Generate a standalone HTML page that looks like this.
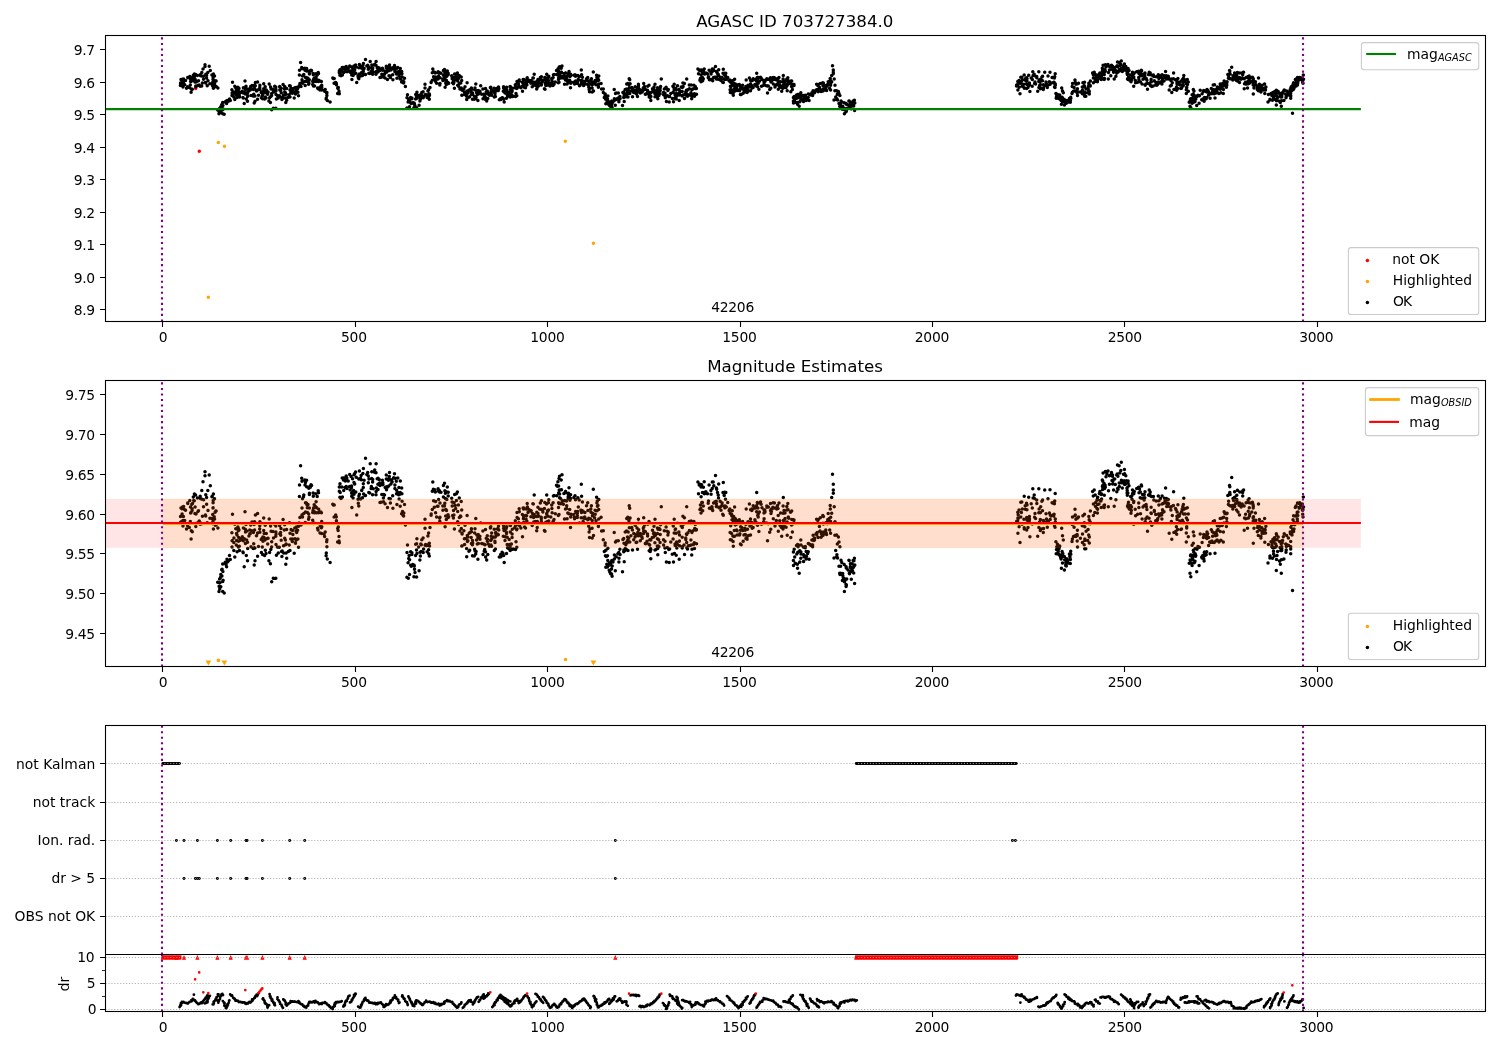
<!DOCTYPE html>
<html><head><meta charset="utf-8"><title>AGASC ID 703727384.0</title>
<style>html,body{margin:0;padding:0;background:#fff}svg{display:block;will-change:transform}</style></head>
<body>
<svg width="1500" height="1050" viewBox="0 0 1500 1050" font-family="DejaVu Sans, Liberation Sans, sans-serif" fill="#000">
<rect width="1500" height="1050" fill="#fff"/>
<g id="p1">
<clipPath id="c1"><rect x="105.5" y="35.5" width="1380.0" height="286.0"/></clipPath>
<g clip-path="url(#c1)">
<path d="M199.3 151.3h0M195.7 88.4h0" stroke="#f00" stroke-width="3.5" stroke-linecap="round" fill="none"/>
<path d="M180.4 85.6h0M180.5 83.1h0M181 79.6h0M181.2 85.2h0M181.9 79.9h0M182.1 82h0M182.5 79.3h0M182.9 84.8h0M183 87h0M183.4 83.1h0M183.6 79h0M184.2 80.1h0M184.7 84.7h0M185.5 80.6h0M186.5 88.2h0M187.5 86.8h0M187.7 77.6h0M187.8 77.8h0M189.3 87.6h0M189.8 76.6h0M190.3 85.1h0M190.5 79.2h0M190.6 81.6h0M191.1 92.2h0M191.1 81.5h0M191.3 88.9h0M191.8 78.2h0M192.1 80.6h0M192.1 80h0M192.3 89.3h0M192.5 77.9h0M193.3 75.2h0M193.7 76.6h0M194.3 76.7h0M194.4 73.9h0M194.9 81.9h0M195.1 79.2h0M195.6 74.4h0M195.8 85.9h0M195.8 87.1h0M196 82.1h0M197.4 75.6h0M197.8 85.6h0M197.9 81.1h0M198.5 80.8h0M199.2 84.9h0M200.2 86.2h0M200.2 74.8h0M200.6 75.8h0M201.1 85.9h0M201.5 76h0M201.7 86h0M201.8 72.5h0M202.4 83h0M203 69h0M203.5 79.2h0M203.6 76.2h0M205 64.8h0M205 66.5h0M205.4 82.5h0M205.7 82.9h0M205.8 74.2h0M206.6 75.3h0M206.6 78.1h0M207.2 85.7h0M207.8 72.5h0M208 80.7h0M209.2 66.2h0M209.9 83.8h0M210.3 70.6h0M211.9 75.1h0M211.9 84h0M212.2 74.9h0M212.7 82.3h0M212.7 86h0M212.9 85.2h0M213 79.6h0M213.1 79.5h0M213.1 77.5h0M213.2 76.6h0M213.4 88.2h0M213.4 74h0M214.2 83.2h0M214.5 75.9h0M214.6 84.1h0M215.1 81.4h0M215.4 86.7h0M215.8 80.8h0M216.1 86.5h0M216.1 80.9h0M217.7 109.9h0M217.9 87.9h0M219 113.7h0M219.1 111.5h0M219.6 108.6h0M219.7 112.7h0M219.9 110.1h0M220.5 108h0M220.8 106.8h0M220.8 111.8h0M221.7 104.8h0M221.9 107.3h0M222.1 104.7h0M222.7 109.7h0M222.7 102.4h0M222.7 113.8h0M222.9 105.5h0M223.1 109.1h0M224.2 114.3h0M225.3 101.8h0M226 102.7h0M226.6 103.6h0M227 100.6h0M227.4 101.7h0M228.3 101.2h0M229.5 99h0M230.3 100.6h0M231.9 89.7h0M232 95.6h0M232.1 93h0M232.5 82.2h0M233.8 93.7h0M233.8 96.9h0M233.9 91.9h0M234.8 86.3h0M234.8 99.6h0M235.8 88.1h0M236.3 94.7h0M236.5 90h0M236.6 92.9h0M237 90.7h0M237.1 97.5h0M237.9 87.3h0M238.3 89h0M238.3 95.6h0M238.4 88.1h0M238.5 93.2h0M238.7 91.6h0M239 88.6h0M239.3 95.2h0M239.5 97h0M240.3 92.8h0M241.4 92h0M242.3 91.3h0M242.9 97.6h0M243.2 97.9h0M243.3 93h0M243.4 87.8h0M244.2 103.6h0M244.3 92.2h0M245 81.1h0M245.3 88.3h0M245.4 94.1h0M245.5 89.4h0M246 86.3h0M246.3 99h0M246.7 92.8h0M246.9 89h0M247.5 101.2h0M247.5 93.6h0M247.7 96.2h0M248.9 91h0M249.8 90.1h0M249.8 88.6h0M250.2 90.1h0M250.7 86.6h0M251 95.5h0M251.7 88.9h0M252 85.4h0M253.2 96.1h0M253.4 89.6h0M253.7 94.2h0M254.1 86.3h0M254.2 102.9h0M254.4 95.9h0M254.5 85.3h0M254.6 88.6h0M254.9 96h0M255 101.2h0M255.3 85.7h0M255.4 82.5h0M256.5 90.9h0M257.6 81.9h0M257.6 89.9h0M257.6 99.3h0M258.5 95.3h0M259.7 88.2h0M259.8 86.9h0M259.9 85.3h0M259.9 89.5h0M261.2 92.5h0M261.4 97.8h0M262.1 92h0M262.3 95.6h0M262.6 98.7h0M262.9 91.5h0M263 93.2h0M263.7 88.8h0M263.7 83.7h0M264.1 91.7h0M264.2 90.1h0M264.6 99h0M265 92.7h0M265.2 86.7h0M265.3 96.9h0M266 98.1h0M266.3 90h0M267.3 92.1h0M267.7 94.3h0M268.1 92h0M268.9 101.1h0M269.2 84.1h0M269.6 97.8h0M270.4 102.4h0M270.6 87h0M270.8 96.5h0M271.1 89.1h0M271.6 95.6h0M271.7 93.4h0M271.7 109.7h0M273 89.2h0M273.3 108.3h0M273.5 91.9h0M274.7 86.3h0M275.8 91.2h0M275.8 87h0M275.8 108.3h0M275.9 89.4h0M276 90.3h0M276 94.5h0M276.4 98.9h0M277.4 95.5h0M277.4 95.5h0M278.3 98h0M279.3 95.7h0M279.7 86.9h0M279.7 86.6h0M279.8 90.1h0M280.6 89.6h0M280.7 90.8h0M281 88.1h0M281.2 92.8h0M281.5 97.4h0M281.9 99.4h0M282.2 97.2h0M283.1 84.4h0M283.5 95h0M283.7 98h0M284.3 88.7h0M284.7 92h0M284.7 86.5h0M285.4 92.7h0M285.6 94.6h0M285.8 102.6h0M286.1 98h0M286.1 94.3h0M286.6 88.4h0M286.7 100.2h0M288.4 97.3h0M289.2 94.8h0M289.5 85.7h0M289.8 85.9h0M290 89.9h0M290 97h0M290.3 86h0M290.8 92.3h0M291.1 88.5h0M292.3 93.3h0M292.5 92.3h0M292.5 88.8h0M292.9 90.4h0M294.2 98.1h0M294.8 87.8h0M295 92.2h0M295.4 94h0M295.5 94h0M296 89.1h0M296 87.6h0M296.1 92.8h0M296.4 87.4h0M296.7 89.7h0M297.6 88.7h0M297.9 92.3h0M298.5 95.7h0M298.6 87.1h0M299.1 85.8h0M299.4 75h0M299.5 70.2h0M299.9 83.5h0M299.9 86h0M300.6 62.4h0M301 86.6h0M301.7 67.5h0M301.9 82.5h0M302 68.7h0M302 79.7h0M302.5 75.9h0M302.5 83.3h0M303.5 75.1h0M303.8 74.4h0M303.8 81.9h0M304.8 68.3h0M305 70.3h0M305.2 85.5h0M305.5 81.2h0M305.5 77.5h0M305.5 69.2h0M306.3 77.6h0M306.5 77.9h0M306.6 68.4h0M306.6 71h0M306.8 78.2h0M307.3 79.5h0M307.4 81.5h0M308 78.3h0M308.6 84.2h0M308.7 82.1h0M308.8 71.6h0M309 83.4h0M309.1 71.1h0M309.3 79.7h0M309.4 73.6h0M309.4 74.1h0M310 70.9h0M310.3 71.2h0M311 70.2h0M311.5 70.4h0M312.7 84.6h0M312.7 81.4h0M313 80.7h0M313.1 73.5h0M313.3 74.8h0M313.5 79.6h0M313.5 86h0M314.1 81.1h0M314.2 78.3h0M314.5 85.9h0M314.6 81.6h0M315.4 79.1h0M315.9 73.8h0M316.1 77.1h0M316.1 79.4h0M316.4 81.6h0M316.6 79.6h0M317.2 74.9h0M317.6 87.9h0M318 88.7h0M318.2 72.6h0M318.5 73.4h0M318.6 81.6h0M318.7 80.2h0M318.8 81.3h0M320 89.9h0M320.2 87h0M320.8 81.3h0M321.4 87.7h0M321.4 81.6h0M321.6 90.1h0M321.7 85.2h0M321.8 87.3h0M324.1 90.2h0M324.6 91.2h0M325.2 89.4h0M326.1 99.1h0M326.3 98h0M326.7 93.4h0M326.9 92.6h0M326.9 95.4h0M327.3 100.4h0M330.1 101.9h0M332.8 78.1h0M333.4 78.5h0M334.1 83.3h0M334.2 78.4h0M335.7 82.6h0M336.3 83.3h0M336.4 84.8h0M337.6 93.5h0M337.7 88.1h0M338.1 88.8h0M338.3 87.4h0M339 93.1h0M339 91.3h0M339.3 72.8h0M339.3 93.8h0M339.3 71.1h0M339.9 75.2h0M340 69.8h0M340.2 73.3h0M341 75.7h0M341.8 71.1h0M342.2 67.4h0M342.4 75.1h0M343.5 68.2h0M343.7 72.5h0M343.8 67.4h0M345 71.2h0M345 68.3h0M345.3 68.7h0M346.2 66.6h0M346.2 70.9h0M346.2 67.2h0M346.8 67.4h0M347 71.7h0M348.2 68.6h0M349.6 70.9h0M349.7 66h0M350.2 72.3h0M351.1 66.8h0M351.4 71.4h0M351.6 70.7h0M351.6 73.6h0M351.7 74.9h0M351.9 79.4h0M352.5 67.7h0M352.7 73.2h0M353.1 75.6h0M353.6 73.4h0M353.6 72.6h0M354 74h0M354 69.2h0M354 66.1h0M354.7 69.9h0M354.7 65.6h0M355.6 64.9h0M355.8 73.2h0M356.2 67.1h0M356.7 82.5h0M358 76.1h0M358.3 77.7h0M358.8 78.8h0M358.8 67.8h0M358.9 74.7h0M359.4 64.5h0M359.4 74h0M360.5 67.5h0M360.6 76h0M361.1 66.4h0M361.2 68.1h0M361.7 72.6h0M361.9 72.3h0M362.5 75.4h0M362.9 65.6h0M363.3 69.7h0M363.3 71.3h0M363.4 63.6h0M363.6 74h0M364.1 68.4h0M365.1 74.6h0M365.5 59.4h0M365.5 74.6h0M366.8 66h0M367.7 65.2h0M368.3 66.6h0M368.3 69.3h0M368.8 73.3h0M369 67.9h0M369.7 73.5h0M370.2 61.6h0M371.1 71.7h0M371.4 70.9h0M371.7 67.6h0M371.8 64.9h0M372.6 69h0M372.6 74.3h0M372.7 68h0M373.2 71.8h0M374.6 65h0M374.7 64.2h0M375.4 65.1h0M376 65.3h0M376 74.2h0M376.1 61.6h0M376.1 72.9h0M376.4 71.5h0M377.2 67.7h0M377.9 69.9h0M378 72.1h0M378.1 67.5h0M379.2 68h0M379.7 69.5h0M379.9 70.4h0M380 77.4h0M381.1 77.3h0M381.4 69.7h0M381.8 74.2h0M382.4 68.3h0M382.7 70.2h0M382.8 69.3h0M383 70.1h0M383.4 75.5h0M383.5 77.1h0M383.8 74.2h0M384.5 74.3h0M385.1 77.9h0M385.2 71.3h0M386.3 67.8h0M386.3 66.2h0M386.5 72.2h0M386.7 71h0M387.5 79.4h0M387.6 71h0M388.4 68.4h0M388.7 70.7h0M389 75.8h0M389 67.5h0M389.3 66.8h0M389.5 65.1h0M390.3 75.9h0M390.4 77.6h0M390.9 69.9h0M391.5 68.4h0M391.8 68.1h0M392.1 69.1h0M392.7 74.7h0M392.9 79.7h0M393.7 67.3h0M394.5 65.6h0M394.9 70.3h0M394.9 71.7h0M395 67.5h0M396.3 68.7h0M396.5 73.9h0M396.6 72.4h0M396.9 78.3h0M397.6 73.3h0M397.8 67.4h0M398.6 74.2h0M398.9 71.3h0M399.1 76h0M399.4 74.2h0M399.7 73.8h0M400.2 73.3h0M400.2 78.9h0M400.3 68.6h0M401.6 82h0M401.7 71.5h0M401.9 73.8h0M402.1 76.9h0M402.5 81.1h0M403 82.6h0M403.4 81.6h0M403.6 82.9h0M403.8 81.7h0M404.5 78.2h0M405.4 86.5h0M406.9 107.9h0M407 97.8h0M407.5 94.8h0M408.1 102h0M408.3 108.3h0M408.7 100.3h0M409.1 99.1h0M409.5 106.7h0M409.6 100.8h0M410.6 97.5h0M410.7 103h0M411.3 103.4h0M411.8 97.9h0M411.9 98.7h0M411.9 97.9h0M412.8 102.7h0M413.4 102.8h0M413.9 107.7h0M414 102.9h0M414.3 103.3h0M414.5 104.6h0M415 106h0M415.6 99h0M415.7 94.4h0M416.5 96.8h0M416.6 94.3h0M416.6 107.8h0M416.9 98.2h0M416.9 92.2h0M418.6 95.6h0M419.1 105.2h0M419.9 100.9h0M420.1 97.7h0M420.4 99.3h0M420.8 94.4h0M421.2 97.4h0M421.3 94.7h0M421.8 92.6h0M423.1 91.8h0M423.2 97.8h0M423.6 96.4h0M425 84.2h0M425 87.9h0M425.1 94.8h0M425.6 94.5h0M425.8 95h0M426.8 94.9h0M427.1 97.5h0M427.9 91.1h0M428.6 89.8h0M428.6 96.6h0M428.7 94.6h0M428.7 98.3h0M428.8 94.3h0M429.3 94h0M429.3 99.3h0M429.5 95.2h0M430 87.6h0M431.1 82.6h0M431.2 82.1h0M432.3 80.2h0M432.3 72.8h0M432.8 69.1h0M433.4 72h0M433.6 76.7h0M434.3 79.3h0M434.7 72.2h0M435.3 73.1h0M435.6 81.6h0M435.6 77h0M436.6 83.3h0M437.3 78.9h0M438 78.9h0M438.1 71.8h0M438.3 72.7h0M438.6 76.2h0M439.3 72.5h0M439.5 73.1h0M439.6 83.8h0M439.8 85.1h0M440 83.4h0M440 77.7h0M441 73.2h0M442.8 78.9h0M442.9 80.6h0M443.4 70.4h0M443.4 75.2h0M444.4 78.9h0M444.5 69.5h0M444.8 77.7h0M444.9 72.6h0M445.1 87.3h0M445.4 75.8h0M445.4 73.7h0M445.7 82.9h0M445.8 80.2h0M446.3 84.4h0M446.5 80.6h0M446.8 73.1h0M446.8 76.2h0M447.3 71.1h0M448 82.4h0M448.2 74.8h0M448.2 73.2h0M448.3 83.6h0M448.7 83.2h0M451.7 75.7h0M452.1 77.1h0M452.2 78.8h0M452.6 82.7h0M453.4 83.7h0M453.5 80.7h0M453.9 82.4h0M454.1 77.5h0M454.4 88.2h0M454.6 74.1h0M455.2 78.6h0M455.6 79.8h0M456.4 76.6h0M456.4 73.8h0M457.4 73.1h0M457.7 85.3h0M457.7 81h0M458.4 78.4h0M458.6 86.3h0M459.3 75.6h0M459.4 83.5h0M459.9 89h0M460.5 82.9h0M460.8 83.1h0M461.2 77h0M461.3 88h0M461.7 80.5h0M461.8 95.2h0M462 90h0M462 95.2h0M462.1 90.2h0M463.9 89h0M464.4 92.2h0M464.6 94.5h0M465 86.7h0M465.9 92.1h0M466.6 96.2h0M466.7 99.5h0M467.1 82.7h0M467.3 90.9h0M467.4 93.3h0M467.9 91.5h0M467.9 91.5h0M467.9 93h0M468.9 97.3h0M469.2 89.9h0M469.7 96.8h0M470.1 89.7h0M471 89.3h0M471.2 91.7h0M471.4 94.2h0M471.4 88.1h0M471.5 89.4h0M471.9 94.2h0M472.4 94.6h0M472.5 93h0M472.5 99.2h0M472.7 93.9h0M474.2 99.2h0M474.6 96.5h0M474.7 89.8h0M475 88.1h0M475.1 97.1h0M475.7 98.4h0M475.8 83.9h0M476.1 97.3h0M476.6 92.8h0M476.9 90.7h0M477.3 94.4h0M477.9 100.6h0M477.9 91.6h0M478.2 90.4h0M478.4 94.1h0M479.9 91.2h0M480 92.4h0M480.7 85.8h0M481.7 94.2h0M482.9 89.1h0M483 98.7h0M483.6 94.3h0M484.2 97.3h0M484.7 96.6h0M485 94.6h0M485.5 97.5h0M485.5 88.4h0M485.6 99.6h0M486.2 92h0M486.7 100.9h0M487.3 90.9h0M487.3 93.2h0M487.5 92.4h0M487.8 98.6h0M488.3 94.3h0M489.5 95.3h0M490.4 87.8h0M490.4 87.5h0M490.7 92.9h0M490.8 87.3h0M491 94.7h0M491.1 92.7h0M491.1 91.2h0M491.6 95.3h0M491.7 89.9h0M491.8 92.2h0M493.8 91.4h0M494.2 88.3h0M494.3 97h0M494.9 91.4h0M494.9 93.2h0M495 93.7h0M495.3 91.5h0M495.4 96.4h0M495.7 90h0M495.7 89.7h0M496 90.1h0M497.2 88.2h0M497.4 90.6h0M497.9 90.4h0M498 88h0M498.3 90.5h0M498.5 87h0M498.8 88.7h0M499.3 99.7h0M500.7 98.6h0M500.9 99.5h0M502.1 97.7h0M502.9 98.1h0M503.3 91.2h0M503.6 86.8h0M503.6 87.9h0M503.7 99h0M504 88.8h0M504.2 101.9h0M505 92.9h0M505.2 91.4h0M506.1 88.1h0M506.4 89.5h0M506.5 90h0M506.5 98.2h0M506.7 87.3h0M507.2 91.5h0M507.2 94.6h0M507.5 95.8h0M508.9 96.3h0M509.2 92.5h0M509.8 94.6h0M510.1 95.5h0M510.1 86.6h0M510.2 97h0M510.3 89.4h0M510.5 86.8h0M511.4 94.4h0M512.1 91.6h0M512.1 90.2h0M512.3 88.3h0M512.4 96.5h0M513.5 96.3h0M514.7 87.7h0M515.3 84.8h0M515.5 96.6h0M515.6 86.8h0M516 93.4h0M516.7 88.5h0M516.8 95.7h0M517 81.5h0M517 88.2h0M517.1 83.5h0M518.4 84.1h0M518.7 86.6h0M518.8 85.7h0M519.2 79.9h0M519.3 81.2h0M519.6 86.9h0M520.9 87.8h0M522.4 82.3h0M522.5 85.9h0M522.5 91.3h0M523.1 79.6h0M523.4 84.1h0M523.6 80h0M523.6 83.2h0M523.7 85.5h0M523.8 79.6h0M524.6 87.4h0M525.4 82.7h0M525.5 87.8h0M526.1 84.2h0M526.3 80.1h0M526.6 82.8h0M526.9 85h0M527.2 77.8h0M527.4 79.3h0M528 81.5h0M528.1 81.4h0M528.1 80.1h0M529.3 80.7h0M529.7 80.5h0M530.5 80.8h0M530.9 83.2h0M531.2 80.8h0M532.2 86.7h0M532.4 81.8h0M532.9 77.9h0M533.3 78h0M533.6 83.6h0M533.8 82.8h0M533.8 85.3h0M534.1 82.3h0M534.2 74.3h0M535.4 85.2h0M536.4 83.1h0M536.7 89h0M536.8 81.4h0M537.2 87.6h0M537.3 85.1h0M537.8 83.2h0M537.9 79.4h0M538 81.9h0M538.4 86h0M538.7 82.9h0M539.6 80h0M540.3 77.6h0M541.2 83.4h0M541.3 85h0M541.3 84h0M541.3 80.3h0M541.4 76.7h0M541.8 80.2h0M542.5 80.3h0M542.9 81.3h0M544.4 79.9h0M544.4 88.8h0M544.8 77.4h0M545 89.2h0M545.2 83.5h0M545.8 85.5h0M546.5 78h0M546.7 74.3h0M546.7 82.2h0M546.7 81.9h0M547 85.3h0M547.5 80.8h0M547.7 81h0M548 83h0M548.4 77.5h0M548.5 80.5h0M548.7 84.9h0M548.8 76.3h0M550 86h0M550.8 83.3h0M551.7 78.4h0M551.9 79.8h0M552.1 81.6h0M552.9 85.4h0M553.1 77.5h0M553.3 85h0M553.4 74.7h0M554 74.6h0M554 84.3h0M555.3 82h0M556.5 70.4h0M556.7 74.6h0M557.3 70.8h0M557.9 68.9h0M558.3 82.8h0M558.5 79.5h0M558.6 70.6h0M558.6 73.6h0M558.6 77.5h0M559 77.8h0M559 67.6h0M559 82.3h0M559.2 72.3h0M559.5 66.7h0M559.6 74h0M559.6 75.5h0M560.2 72.4h0M560.7 75.9h0M560.8 77.9h0M561.2 68.3h0M561.4 72.2h0M561.5 72.2h0M562 77.4h0M562 66.1h0M562.4 76.8h0M563 76.7h0M563.4 78.1h0M563.9 73.7h0M564.5 84.2h0M564.6 73.5h0M564.8 76.6h0M565.5 72.9h0M565.5 80h0M565.6 73h0M566.4 76.7h0M566.6 79.8h0M566.7 78.7h0M567.1 84h0M567.8 81.7h0M567.9 73.8h0M568.1 75.7h0M568.2 74.9h0M568.5 73.6h0M568.7 82h0M568.7 74.2h0M569 71.4h0M569.6 74.6h0M569.7 80.2h0M569.9 76.5h0M570.3 74.2h0M570.5 87.7h0M570.6 75.8h0M570.6 74.2h0M570.7 83.3h0M571 82.2h0M573.7 82.3h0M573.9 75.3h0M574.3 83.4h0M574.6 84h0M575 74.7h0M575.5 76.3h0M575.6 81.1h0M576.1 81.4h0M577.3 81.9h0M577.3 83.6h0M577.3 82.8h0M577.6 81.1h0M577.9 75.4h0M578.3 79.3h0M579.2 76.4h0M579.5 85.7h0M580.9 80.6h0M581.1 83.6h0M581.3 69.9h0M581.5 81.4h0M581.6 74.8h0M582.3 80.7h0M582.4 81.1h0M582.4 77.2h0M583.1 85.2h0M583.2 83.8h0M583.5 81.2h0M583.7 85.6h0M584.7 83.3h0M584.9 81.5h0M585.2 84h0M586.5 78.7h0M587.7 77.5h0M587.8 84.4h0M587.9 80.7h0M588.7 87.1h0M588.7 83.8h0M589.1 89.4h0M589.5 91.7h0M589.9 88.3h0M590.3 84h0M590.8 80h0M591 81.4h0M591.4 78.7h0M592.1 87.9h0M592.2 84.7h0M592.2 91.9h0M592.4 82.8h0M592.8 81.9h0M593.3 72h0M593.5 90.9h0M594.6 83.7h0M595.1 80.6h0M595.2 82.2h0M596 84.8h0M596.6 75.3h0M596.9 77.6h0M597 80.8h0M597.3 76.8h0M597.4 78.9h0M598 78.7h0M598.4 87.2h0M598.4 86.6h0M598.7 80.2h0M598.8 84.1h0M598.8 76.1h0M601.1 83.5h0M601.6 89h0M603.3 92.6h0M603.3 89h0M604.3 97.4h0M605.1 94.9h0M605.2 93.9h0M605.4 99.1h0M605.8 103.8h0M605.9 96.9h0M606.4 99.4h0M606.8 102.6h0M607.4 103.8h0M607.5 99.1h0M607.8 101.1h0M607.9 96h0M609 103h0M609 102.5h0M609.2 105.1h0M609.6 102.1h0M609.8 105.8h0M610.4 102.4h0M610.6 106.5h0M611.5 104.5h0M611.6 106.6h0M611.6 101.4h0M611.8 101h0M612.1 107.5h0M612.2 103.3h0M613 101.7h0M614.2 89.6h0M614.3 100.4h0M614.4 98.8h0M615.3 105.3h0M615.5 93.6h0M616.1 99.5h0M616.3 93.1h0M617.8 98.3h0M618.3 93h0M618.8 97.8h0M618.9 101.7h0M619 100.1h0M619.9 96.4h0M620.1 98.6h0M622.5 105.6h0M622.9 92.5h0M623.7 97.5h0M623.7 92.1h0M623.9 96.7h0M624 94h0M624.2 101.5h0M624.6 97.1h0M625.2 89.4h0M625.3 96.2h0M625.7 94.5h0M625.8 94.6h0M626.5 89.1h0M626.6 96.7h0M626.7 83.9h0M626.7 93.5h0M627 93.9h0M627.5 91.5h0M627.7 92.8h0M627.8 83.4h0M628 97h0M628.2 89.4h0M628.7 92h0M628.9 84.8h0M629.2 78.8h0M629.3 87.7h0M629.7 79.8h0M629.8 93.5h0M630 83.9h0M630.1 83.7h0M630.9 90.9h0M631.8 87.6h0M632.4 88.7h0M632.5 96.8h0M633.7 92.6h0M633.8 90h0M635 91.4h0M635.2 86.7h0M636 90.5h0M636.1 93.8h0M636.6 90.6h0M636.8 93.6h0M637 90.8h0M637 87.8h0M637.5 96.4h0M637.9 89.6h0M638.4 84.2h0M638.5 85.9h0M638.7 88.5h0M638.8 90.6h0M638.8 91h0M640.3 93h0M640.4 90h0M641.2 91h0M641.9 91.5h0M642.2 92h0M643.3 87.9h0M643.6 90h0M643.6 89h0M643.7 87.5h0M643.7 83.6h0M644.5 86.5h0M645.3 94.2h0M645.3 89.2h0M645.6 94.2h0M646.2 94h0M647 93.2h0M647.5 90.2h0M647.6 91.1h0M647.7 86.3h0M649 85.2h0M649 94.4h0M649.2 97.1h0M649.7 94.7h0M649.8 92.6h0M650.2 97.4h0M650.6 96.2h0M650.8 92.7h0M650.8 100.4h0M650.9 96.5h0M652.3 91.7h0M652.5 88.7h0M653.5 90.1h0M653.6 91.4h0M654 87.1h0M654.4 89.9h0M654.9 93.8h0M655 84.2h0M655 96.7h0M655.3 90.9h0M655.6 96.6h0M657.3 95.1h0M657.4 92.2h0M657.5 87.8h0M657.5 96.1h0M657.5 90.1h0M657.7 96.2h0M657.8 98.7h0M658 88.3h0M658.3 95.2h0M658.7 92.6h0M658.9 95.4h0M659.2 88h0M660 88.4h0M660.1 93.8h0M660.2 90.5h0M660.6 86.5h0M661.3 79.1h0M663.5 92.6h0M663.6 94.7h0M664.3 88.9h0M664.9 96h0M665 93.2h0M665.3 97.7h0M666.1 87.3h0M666.4 101.6h0M667.1 89.1h0M667.3 95.7h0M667.9 90.6h0M668.1 89.4h0M668.3 89.6h0M668.8 96.6h0M669.2 101.9h0M669.6 96.4h0M670.8 93.5h0M672.3 98.5h0M672.9 86.3h0M673.1 92.3h0M673.3 87h0M673.5 101.7h0M674.2 84.2h0M674.2 89.8h0M674.5 98.3h0M675 94.3h0M675.2 88.4h0M675.2 95h0M675.6 88.2h0M676.1 90h0M676.2 98.9h0M676.5 93.5h0M676.8 96h0M677.3 94.4h0M677.5 85.8h0M678.9 89.4h0M679.2 100.5h0M679.3 93.2h0M679.4 93.2h0M679.5 90.6h0M679.6 95.1h0M681.2 87h0M682.2 87.4h0M682.2 91.5h0M682.2 95.9h0M682.3 87.6h0M682.6 95.3h0M682.9 83h0M683.1 86.5h0M684 94.7h0M684.4 83.6h0M684.5 98.6h0M685.7 91.9h0M685.8 92.5h0M686.4 90.3h0M686.7 90.5h0M686.7 79.1h0M686.7 93.7h0M686.8 95.9h0M687.5 96.3h0M687.9 89.8h0M688.3 95h0M689.3 85.1h0M689.4 88.8h0M689.8 95h0M690.9 92.7h0M691.1 94.8h0M691.1 85h0M691.7 98.8h0M691.9 89.7h0M692 96.5h0M692.6 89h0M693.4 94.6h0M693.9 85.2h0M694.3 93.8h0M694.5 96.2h0M694.7 88h0M695 88.6h0M695.3 86.4h0M696.3 88.6h0M696.4 88.4h0M696.5 94.2h0M697.9 69h0M698.5 73.8h0M699.2 70.3h0M699.9 69.9h0M699.9 80.2h0M700.4 78.4h0M700.7 79.8h0M701 81.7h0M701.1 71.1h0M701.1 75.1h0M701.6 70.1h0M701.8 77.4h0M702.4 77.5h0M702.5 73.3h0M702.7 80.8h0M703.3 78.8h0M703.3 78.8h0M703.4 71.2h0M704.2 68.9h0M704.4 73.9h0M704.9 73.2h0M705.8 73.7h0M705.9 73.1h0M707.5 73.8h0M708.2 77.7h0M708.5 76.8h0M709.1 70.2h0M709.4 79.7h0M710.5 79.5h0M710.9 72.5h0M711.1 74.1h0M711.7 80.1h0M711.9 79.2h0M712.1 79.8h0M712.2 71.6h0M712.3 69.1h0M712.7 80.7h0M713.2 69h0M713.6 77.6h0M713.8 70.6h0M714.7 77.3h0M715.5 66.4h0M716.2 76.9h0M716.3 79.1h0M716.4 77.9h0M716.4 71.5h0M716.7 72h0M717.1 79h0M717.5 73.4h0M718.2 74.3h0M718.5 75.6h0M718.7 69.8h0M719.1 79.5h0M720.1 76.9h0M720.6 79.1h0M721 80.5h0M721.6 78.7h0M722.1 77.6h0M722.7 82.2h0M723 73.3h0M723.3 82.6h0M723.3 69.2h0M724.1 74.5h0M724.2 74.5h0M724.2 78.9h0M724.7 73.2h0M724.8 79.5h0M725.2 78.8h0M725.4 79h0M725.5 76.1h0M725.8 73.3h0M726.3 79.3h0M727.7 77.4h0M729.1 80.7h0M729.8 80h0M730.1 81.8h0M730.1 89.7h0M730.3 92.6h0M730.3 81.9h0M730.4 86.3h0M730.7 86.9h0M731.5 92.7h0M731.6 90.1h0M731.6 82.8h0M731.7 82.3h0M732 84.4h0M732.2 83h0M732.3 80.8h0M732.9 91h0M733.1 93.3h0M733.3 85.6h0M733.3 95.3h0M733.6 83.8h0M733.7 83.1h0M733.7 84.6h0M733.9 91.3h0M734 85.8h0M734.3 88.8h0M734.5 91.2h0M734.6 79.3h0M734.8 84.8h0M735.3 84.5h0M735.3 86.6h0M735.4 84h0M736.6 88.6h0M737.1 90.6h0M737.1 88.9h0M737.2 86.1h0M737.3 85.3h0M737.5 85.5h0M738.1 84.7h0M739.3 84.5h0M739.4 85.1h0M739.6 90.7h0M739.9 90.1h0M740.4 94.4h0M740.6 88.7h0M740.7 87.3h0M741.2 94.6h0M741.7 87.6h0M742.6 85.2h0M742.9 88.8h0M743.2 93.2h0M743.9 90.6h0M744.9 87.9h0M745.1 88.7h0M745.3 90.4h0M745.9 86.4h0M745.9 92.1h0M746.2 80h0M746.6 92.1h0M746.8 91.6h0M747.1 92.4h0M747.5 88.3h0M748 85.3h0M748.5 90.9h0M749.4 78h0M749.9 87h0M750.5 90.7h0M750.5 84.1h0M750.6 80.4h0M750.8 85.4h0M751.3 86.4h0M751.7 85.6h0M751.7 80.1h0M751.8 80.7h0M752.2 87.9h0M753 80h0M753.1 87.5h0M753.2 78.7h0M754.9 84.4h0M755.1 84.9h0M755.4 79.7h0M756.5 78.8h0M756.6 81.2h0M756.7 73.3h0M756.7 86.2h0M756.8 85.8h0M757.3 77.4h0M757.5 77.6h0M757.6 86.7h0M757.7 82.8h0M757.9 79.7h0M758.2 83.3h0M758.3 82.1h0M758.5 77.6h0M758.9 89.2h0M759.4 81.2h0M760.5 77.3h0M761.1 78.1h0M761.5 86.3h0M762 79.5h0M763.7 85.3h0M764 81.7h0M764.1 84.1h0M764.1 80.5h0M764.5 81.3h0M764.8 80.6h0M764.9 81.4h0M765 81.2h0M766.5 85.8h0M766.8 78.8h0M767 79.4h0M767.5 93h0M767.6 86h0M768.3 86.1h0M768.4 79.2h0M769.7 89.5h0M770.5 80.6h0M770.5 77.8h0M770.8 88.3h0M771 81.9h0M771.4 81.1h0M771.4 80.1h0M772.9 79.4h0M773.1 79.8h0M773.2 77.5h0M773.3 84h0M774 79.6h0M774.4 77.7h0M775 87h0M776 79.7h0M776.2 84.9h0M776.3 84.8h0M776.7 80h0M777 79.1h0M777.6 78.6h0M778 79.9h0M778.2 82.7h0M778.3 89.2h0M779 77.6h0M779.2 86.1h0M779.7 84.9h0M780.1 86.8h0M780.6 81.7h0M780.8 86.3h0M781.2 87.5h0M781.7 91.2h0M782.6 86.7h0M783 88.2h0M783.1 78.9h0M783.1 81.8h0M783.3 75.4h0M783.4 84.8h0M784 80.7h0M784.1 84.7h0M784.6 87.3h0M785 81.7h0M785.1 83.9h0M785.3 86h0M786.1 87.5h0M786.8 79h0M786.9 80.5h0M787.1 85.4h0M787.2 90.7h0M787.8 77.8h0M788.1 80.4h0M788.3 83.3h0M788.7 83.8h0M790.5 81.4h0M790.8 91.7h0M791.1 81h0M791.5 86.6h0M791.7 80.9h0M791.8 84.3h0M792.4 86.3h0M792.4 89.5h0M793.3 84.4h0M793.4 97.6h0M793.4 101.1h0M793.5 103h0M794 84.5h0M794 85.6h0M794.2 96.4h0M794.7 99.7h0M795.3 102.2h0M796.5 95h0M796.8 98.3h0M797.3 102.6h0M797.5 104.3h0M797.6 94.5h0M797.8 97.7h0M798.1 95.4h0M798.2 94.6h0M799.2 106.3h0M799.7 101.8h0M799.8 101.7h0M799.8 97.1h0M800.8 97.6h0M800.8 100.1h0M800.8 92.7h0M800.9 97.6h0M801 98.3h0M801 94.8h0M803.3 95.5h0M803.5 101.4h0M803.6 101.5h0M803.6 98.7h0M804 99.6h0M804 99h0M805.2 99.2h0M805.2 95.8h0M805.3 95.3h0M806.1 100.4h0M806.2 97.4h0M806.5 99.5h0M807.7 98.2h0M808.2 97.5h0M808.3 94.1h0M809.1 100.5h0M809.5 94.4h0M809.7 94.5h0M810.2 94.5h0M811 94.9h0M811.9 92.7h0M812.3 92.7h0M812.4 94.7h0M812.6 95.5h0M812.6 94.7h0M813.1 90.8h0M813.3 92.4h0M813.9 93h0M814.5 92.7h0M814.6 92h0M816.1 90.1h0M816.6 84.3h0M816.8 90.6h0M816.8 90h0M817.2 89.6h0M817.8 85.6h0M818.1 91.7h0M818.3 84.4h0M819.4 87.2h0M820 89h0M820.2 89.2h0M820.3 83.6h0M821.1 91.6h0M821.4 90.3h0M822.8 82.7h0M822.9 90.9h0M823 85.8h0M823.3 89.5h0M823.4 86.2h0M823.4 83.1h0M824.5 89.6h0M824.7 90.1h0M825.8 88.6h0M825.9 85.6h0M826.1 89.7h0M826.6 90.4h0M827.3 86.1h0M827.8 84.3h0M827.8 84.8h0M828.2 81.8h0M829.2 84h0M829.7 88.6h0M830.2 78.6h0M830.3 80.1h0M830.6 85.2h0M830.6 90h0M830.7 83.4h0M831.7 75.4h0M831.7 81.8h0M832.5 65.8h0M833.3 69.9h0M833.3 72.3h0M833.3 73.7h0M834 100h0M834.2 79.1h0M834.9 90.7h0M835 85.2h0M835.7 97h0M836.6 90.7h0M836.8 99.4h0M836.9 98.7h0M837.3 94.3h0M837.5 100.1h0M838.4 91.5h0M839 103.4h0M839 93.5h0M839.7 106.3h0M839.9 95.5h0M840 106.8h0M840.6 106.2h0M840.6 103.4h0M841 100.9h0M841.8 101.9h0M842.4 109.2h0M842.7 106.3h0M842.8 107.1h0M843.3 108.1h0M843.8 108.4h0M844 108.3h0M844.2 102.7h0M844.4 113.7h0M844.5 109.7h0M844.9 109.2h0M846 110.8h0M846.1 111.7h0M846.1 103.6h0M846.2 110.9h0M846.3 104.2h0M846.4 111h0M846.7 108.6h0M848 104.9h0M848.9 101h0M849.2 101.1h0M849.3 106.3h0M849.5 106.5h0M850.2 103.8h0M850.3 103.6h0M850.4 102.4h0M850.7 105.7h0M851.2 105.3h0M851.3 108.7h0M852 104.6h0M852.1 102.4h0M852.4 105.2h0M853.1 101.1h0M853.2 103.9h0M853.7 106.1h0M853.9 101.2h0M854 103.4h0M854.4 100.2h0M854.6 110.4h0M854.8 102.9h0M1016.5 85.9h0M1016.7 85.1h0M1017.7 85h0M1017.8 81.4h0M1017.9 83.7h0M1017.9 89.9h0M1018 83.9h0M1018.2 82.4h0M1018.2 83.9h0M1019 80.5h0M1019.1 87.3h0M1020 93.7h0M1020.8 83.3h0M1020.8 77.3h0M1021.4 81.5h0M1021.8 77.2h0M1022.1 86.3h0M1022.3 80h0M1023.9 84.2h0M1024.2 74.9h0M1024.2 87.7h0M1024.3 88.3h0M1025.2 78.7h0M1025.3 80.2h0M1026.5 77.7h0M1026.7 83.5h0M1026.7 88.6h0M1026.9 80.4h0M1027 78.4h0M1027.1 84.6h0M1028 87.6h0M1028.6 85.7h0M1028.7 75.2h0M1028.7 84.2h0M1029.3 84.8h0M1029.4 83.1h0M1029.5 84.2h0M1029.9 91.4h0M1031.2 77.9h0M1032.2 86.2h0M1032.3 79.6h0M1032.8 71.8h0M1033.1 75.6h0M1034.2 74.3h0M1034.4 75.7h0M1034.6 83.4h0M1035 81.9h0M1035.6 83.9h0M1036.7 76.4h0M1036.8 77.8h0M1037.7 91.2h0M1038.8 81.6h0M1038.8 71.8h0M1038.9 87.5h0M1039.1 80h0M1039.6 85.4h0M1040 85.6h0M1040.3 88.8h0M1040.3 84.4h0M1040.3 81.6h0M1040.7 79.2h0M1041.2 88.2h0M1041.9 76.9h0M1042.5 80.7h0M1042.6 76.3h0M1043.3 89.6h0M1043.4 84.8h0M1043.5 88h0M1044.7 72.3h0M1044.8 85.6h0M1046 82h0M1046.5 84.1h0M1047.1 84.9h0M1047.3 87.5h0M1047.5 85h0M1048 75.9h0M1048.3 85.1h0M1049.4 81.7h0M1050 72.2h0M1050.2 84.3h0M1050.3 82.5h0M1050.9 82.9h0M1052.1 77.5h0M1052.5 77.6h0M1053.4 82.4h0M1053.7 83h0M1054 77.6h0M1054.1 82.2h0M1054.4 77.9h0M1054.5 87h0M1054.7 76.8h0M1055 87.5h0M1055.2 73.8h0M1055.3 84.1h0M1055.3 85.3h0M1055.9 93.4h0M1056.2 98.3h0M1056.5 96.5h0M1056.8 95.5h0M1057.5 94.4h0M1058 97h0M1058.2 97.2h0M1058.2 98.2h0M1058.5 98.5h0M1059 96.2h0M1059.3 98.8h0M1059.4 95.7h0M1059.7 95.1h0M1059.8 98.7h0M1060.6 99.8h0M1061.1 100.5h0M1061.4 104.3h0M1061.7 87.9h0M1061.9 99.5h0M1062.1 97.3h0M1062.5 91h0M1062.5 102.1h0M1062.8 98.2h0M1062.8 99.4h0M1063.3 92.7h0M1064.3 99.5h0M1064.4 104.9h0M1064.7 100.8h0M1065.7 102.9h0M1065.8 103.2h0M1065.9 101.9h0M1066.3 103.3h0M1066.4 102.3h0M1066.6 101.7h0M1066.6 101.9h0M1066.7 100.4h0M1067.4 100.8h0M1067.7 101.7h0M1068.4 102h0M1069.4 98.5h0M1069.8 99.3h0M1070 99.6h0M1070.3 102.2h0M1070.4 100.7h0M1070.7 97.3h0M1070.8 98.5h0M1072 93.4h0M1072.2 86.4h0M1072.4 92.3h0M1072.5 83.4h0M1073.5 91.2h0M1074.1 87.5h0M1074.5 91h0M1075 82.8h0M1075 80.1h0M1075.3 82.5h0M1075.7 91.3h0M1075.9 84.2h0M1076.2 90.8h0M1077.1 90.4h0M1077.2 91h0M1077.2 93.1h0M1077.4 88.7h0M1077.5 95.5h0M1077.6 83.8h0M1078.5 83.3h0M1080.4 92h0M1082.3 86.9h0M1082.4 93.8h0M1082.5 90.2h0M1082.9 82.8h0M1083.5 86.5h0M1084.2 94.6h0M1084.3 85.7h0M1084.5 82.2h0M1084.7 96.3h0M1084.8 92.9h0M1084.8 87.3h0M1084.8 92.3h0M1085.8 96.2h0M1086.1 89.1h0M1087.7 92.8h0M1088.1 88.4h0M1088.5 86h0M1088.7 90.6h0M1088.8 83.2h0M1089.2 84.4h0M1089.3 93.9h0M1089.3 91.5h0M1090.2 85.4h0M1090.3 86.1h0M1090.4 80.9h0M1092.6 72.9h0M1093.3 74.8h0M1093.4 82.7h0M1093.4 78.1h0M1094.2 72.3h0M1094.8 81.5h0M1095.2 74.3h0M1095.5 79h0M1095.7 77.4h0M1096.9 76.5h0M1097 79.9h0M1097.4 81.7h0M1097.4 76h0M1097.6 80.1h0M1097.7 75.3h0M1097.7 78.2h0M1099 78h0M1099.4 73.7h0M1099.9 72.9h0M1100.2 76.5h0M1100.9 76.8h0M1101.2 79.4h0M1101.2 74.2h0M1101.6 73.9h0M1101.6 75.9h0M1102.3 68.3h0M1102.4 70.9h0M1102.6 72.1h0M1102.8 68.7h0M1102.9 70.4h0M1103.1 71.8h0M1103.1 65.3h0M1103.9 78.6h0M1104.1 69.7h0M1104.1 70.3h0M1104.2 79.4h0M1104.2 69.7h0M1104.3 74.4h0M1104.5 78.4h0M1104.6 71.7h0M1105.1 70.3h0M1105.1 70.6h0M1105.3 71.2h0M1105.4 64.8h0M1106 66.9h0M1106.9 65.8h0M1108 64.6h0M1108.3 79.1h0M1108.5 72.6h0M1109.4 69.9h0M1109.5 66.5h0M1110.8 75.7h0M1111.3 65.8h0M1111.5 65.2h0M1112 68.4h0M1112.4 66.7h0M1112.6 69.8h0M1112.6 66.2h0M1112.9 69.9h0M1112.9 68.7h0M1113.6 72.3h0M1114 67.9h0M1114.2 79h0M1114.7 67.8h0M1115.3 70.1h0M1115.9 76.3h0M1116.7 66.2h0M1116.8 73h0M1117.2 65.8h0M1117.5 62.1h0M1117.6 71.7h0M1117.9 66.7h0M1118.1 72h0M1119.1 62.4h0M1119.2 69.4h0M1119.3 70.9h0M1119.9 65.4h0M1120.8 64.4h0M1121.3 60.9h0M1121.4 69.3h0M1121.4 68.3h0M1122.3 71.5h0M1122.3 68.9h0M1123.5 65.9h0M1124.1 68.6h0M1124.3 70h0M1124.4 64h0M1124.6 65.6h0M1124.6 69.5h0M1125.4 70h0M1125.8 66.5h0M1126.5 68.5h0M1127 71.6h0M1127.1 73.6h0M1127.1 71.4h0M1127.2 72.5h0M1127.3 74.4h0M1127.5 78.9h0M1127.9 73.5h0M1128.1 69.6h0M1128.1 68.6h0M1128.1 79.4h0M1128.1 78.2h0M1128.5 77.3h0M1129 70.6h0M1129.3 80.1h0M1130.6 74.9h0M1130.7 78.6h0M1131 81.8h0M1131.3 80.7h0M1131.5 79.3h0M1131.7 74.7h0M1132 76h0M1132.5 72.3h0M1132.6 73.7h0M1133.6 77.4h0M1133.7 86.3h0M1133.8 73.8h0M1133.8 77h0M1134.3 72.9h0M1135.2 80.2h0M1135.6 82.8h0M1136.7 71.7h0M1137.6 82.2h0M1138.6 71.2h0M1138.7 77.6h0M1138.9 79.5h0M1139 73.4h0M1139.5 71.9h0M1140.2 75.5h0M1140.3 73.1h0M1140.5 82h0M1141.3 70.3h0M1141.4 75.7h0M1141.6 70.7h0M1142.1 84.1h0M1142.5 74.2h0M1143 79.3h0M1143.8 75.5h0M1144.1 76.4h0M1144.1 78.7h0M1144.2 74.2h0M1144.8 75.5h0M1145 73h0M1145.2 85.2h0M1145.8 84h0M1146.1 78.2h0M1146.4 79.2h0M1146.9 80.3h0M1147.1 83.3h0M1147.5 89.2h0M1148.5 74.4h0M1149.1 83.8h0M1149.2 72.3h0M1149.6 74.6h0M1149.8 73.9h0M1150.2 73.1h0M1150.5 85.4h0M1151 81.6h0M1151.1 79.3h0M1151.3 81.9h0M1151.5 74.9h0M1151.8 86.6h0M1153.1 86.1h0M1153.4 75h0M1153.8 76.4h0M1154.3 80.7h0M1154.4 81h0M1155.7 84.9h0M1155.7 82.3h0M1156.2 76.8h0M1156.8 85.2h0M1157.5 84.5h0M1157.7 84h0M1158.3 74.7h0M1158.4 82.1h0M1158.9 76.7h0M1158.9 78.5h0M1159.3 82.9h0M1160.4 75.9h0M1160.6 81.9h0M1161 82.2h0M1161.7 82.5h0M1161.9 84.1h0M1162.1 78h0M1162.1 74.8h0M1162.5 80.4h0M1162.6 81.4h0M1162.9 80.8h0M1163.6 77.7h0M1164 81.1h0M1164.5 75.7h0M1165.1 76.7h0M1165.6 71.5h0M1166.4 75.7h0M1166.7 77.8h0M1166.7 79.1h0M1167.4 76.4h0M1168.2 78.9h0M1168.3 77.9h0M1168.3 76.2h0M1168.5 77.9h0M1169.2 90h0M1170.3 86h0M1170.6 79.3h0M1170.9 80.5h0M1171.4 85.2h0M1171.5 79h0M1171.8 92.4h0M1172.3 82.7h0M1173.4 78.7h0M1173.6 73h0M1173.9 89.6h0M1175.5 79.8h0M1175.9 89.1h0M1176.1 80.3h0M1176.4 87.3h0M1176.7 90.3h0M1176.9 83h0M1177.1 84.3h0M1177.1 81.2h0M1177.1 84.1h0M1177.6 88.4h0M1177.9 78.4h0M1178.4 82.6h0M1179.2 83h0M1179.9 82.1h0M1179.9 84.9h0M1180.8 88.4h0M1181.5 88.2h0M1181.6 81h0M1182.2 80.1h0M1182.4 84.7h0M1182.8 79h0M1183.1 86h0M1183.3 85.3h0M1183.4 78.3h0M1183.4 80.2h0M1183.6 82.1h0M1183.8 75.6h0M1185.2 82.1h0M1185.4 79.9h0M1186.3 89.8h0M1186.3 93.5h0M1186.4 83.8h0M1186.7 87.8h0M1186.7 87.3h0M1187.3 79.5h0M1187.5 84.5h0M1188.3 82.1h0M1188.3 91.3h0M1189.2 102.2h0M1190 106.3h0M1190.1 100.8h0M1190.5 99.1h0M1190.6 102.1h0M1190.7 98.8h0M1190.8 107.7h0M1191.4 98.9h0M1191.5 102.1h0M1192.1 103.2h0M1192.1 94.8h0M1192.6 100h0M1192.8 100.6h0M1193.2 99h0M1193.3 96.9h0M1193.3 89.4h0M1193.3 94.1h0M1193.8 97.7h0M1194 91h0M1194.3 101.9h0M1195 101.4h0M1195.2 96.1h0M1195.2 98.3h0M1195.6 99.3h0M1195.8 99h0M1196.7 105.6h0M1197 96.5h0M1197.9 95.3h0M1199.1 103.2h0M1199.4 95.7h0M1200.2 90.2h0M1201.7 99.7h0M1202 100h0M1202.1 93.7h0M1202.8 99h0M1202.9 99.9h0M1203.4 91.6h0M1203.5 99.4h0M1203.7 90.5h0M1203.8 100.5h0M1204.1 101.3h0M1204.3 97.8h0M1204.5 97.6h0M1204.9 99.1h0M1205.5 90.7h0M1205.8 97.7h0M1206.2 98.7h0M1206.4 91.7h0M1206.7 97.5h0M1206.9 91h0M1206.9 92.1h0M1207 89.5h0M1207.7 90.2h0M1208.6 94.9h0M1208.7 91.7h0M1209.7 93.5h0M1210.1 98.3h0M1210.7 93.7h0M1211.3 88.5h0M1211.9 93.2h0M1212.3 89.3h0M1212.5 93.6h0M1212.6 91.2h0M1213.2 85.1h0M1213.7 89.7h0M1214.2 93.8h0M1214.5 84.8h0M1215 89.7h0M1215 98.1h0M1215.4 90.9h0M1215.5 90.5h0M1215.9 93.1h0M1216.3 89.9h0M1216.9 90.8h0M1217.1 88.9h0M1217.1 92.7h0M1217.3 86.9h0M1217.9 93h0M1218 88.4h0M1219 93.5h0M1219.7 87h0M1220.2 89.2h0M1220.2 84h0M1220.3 86.5h0M1220.9 92.8h0M1222.2 86.7h0M1222.2 83.7h0M1222.8 83.6h0M1223.3 93.5h0M1223.4 89.4h0M1223.7 83.4h0M1223.9 85.8h0M1224.1 81.1h0M1224.9 81.8h0M1225.3 81.7h0M1226.4 87.2h0M1226.5 82h0M1226.7 83.9h0M1226.8 85.2h0M1227.1 81.8h0M1227.8 74.5h0M1228.4 78.3h0M1228.6 76.9h0M1229.3 74.1h0M1229.5 70.4h0M1229.8 73.4h0M1229.8 70.9h0M1229.9 78.8h0M1230.1 74.1h0M1230.7 78.8h0M1231.7 67.2h0M1232 79h0M1232.8 80.1h0M1232.8 78.6h0M1233 75.7h0M1233.3 78.7h0M1233.6 76.5h0M1234 78.6h0M1234.6 73.1h0M1234.7 75.3h0M1234.7 79h0M1235.6 77.8h0M1236.5 80.5h0M1236.8 74.5h0M1236.8 76.2h0M1236.9 76.8h0M1237.4 72.4h0M1237.9 77.6h0M1238 81.2h0M1239 78.5h0M1239.5 82.6h0M1239.6 77.6h0M1239.8 73.1h0M1241.1 79.2h0M1241.8 78.6h0M1242.2 78.1h0M1242.6 73.3h0M1242.7 74.7h0M1242.8 72.6h0M1243.6 72.3h0M1244.1 78.8h0M1244.2 88.8h0M1244.5 83.7h0M1245.6 84h0M1245.6 82.2h0M1246.1 77.5h0M1246.5 83.9h0M1247.5 87.9h0M1248.1 76.4h0M1248.2 81h0M1248.4 83.8h0M1248.5 77.4h0M1249.1 75.9h0M1249.3 79.5h0M1249.6 82.9h0M1249.7 82.2h0M1250.3 77.5h0M1251.8 81.2h0M1252.4 77.3h0M1252.7 77.8h0M1253.1 78.5h0M1253.1 83.8h0M1253.2 85h0M1253.2 79.7h0M1253.3 94.1h0M1253.3 79h0M1253.5 83.2h0M1254 87.9h0M1255.4 81.7h0M1255.6 85.1h0M1255.8 84.6h0M1257.3 89.4h0M1257.5 87.6h0M1257.8 86.5h0M1258.3 86.5h0M1258.3 90.8h0M1258.5 78.1h0M1259.4 87.2h0M1259.4 88.6h0M1259.4 84.3h0M1259.9 85.4h0M1260.9 91.9h0M1260.9 91.2h0M1261.8 87.7h0M1262.1 90h0M1262.1 89.4h0M1262.2 85.3h0M1262.5 89h0M1263.6 90h0M1264.6 84h0M1264.7 89.8h0M1264.8 88.3h0M1264.8 93.6h0M1265.2 88.5h0M1265.5 89.9h0M1265.9 87.1h0M1268 102h0M1268.4 94.6h0M1269.9 100h0M1270 99.3h0M1271 93.4h0M1271.8 95.5h0M1271.9 93.5h0M1272 94.6h0M1272 95.2h0M1272.5 100.2h0M1272.7 95.8h0M1272.9 92.4h0M1273.5 97.3h0M1273.6 98.4h0M1273.8 93.5h0M1274.5 99.2h0M1274.5 91.8h0M1274.5 95.7h0M1275.6 92.6h0M1275.7 94.4h0M1275.8 95.5h0M1276.3 90.2h0M1276.3 105.1h0M1276.4 95.2h0M1276.5 100.7h0M1276.7 90.8h0M1277 92.6h0M1277 99h0M1277.6 97.4h0M1278.2 91.5h0M1279.5 101.3h0M1279.5 93.4h0M1280 95.8h0M1280.3 102.6h0M1280.8 97h0M1281.1 93.2h0M1281.2 94.2h0M1281.3 106.3h0M1281.4 100.8h0M1281.7 97h0M1281.7 95.4h0M1281.8 96.1h0M1282.2 93.9h0M1282.6 92.9h0M1283.3 91.4h0M1283.9 100.4h0M1284.2 90.1h0M1285.7 94.3h0M1286 97.7h0M1286.2 96.8h0M1286.4 95.3h0M1286.6 90.9h0M1287 94.7h0M1288.4 91.9h0M1288.7 94.9h0M1290.2 89.5h0M1290.4 90.1h0M1290.7 96.3h0M1290.7 93.3h0M1290.7 98.3h0M1290.7 95.5h0M1290.9 87.5h0M1291.6 86.6h0M1291.9 89.7h0M1292 90.6h0M1292.3 89.4h0M1292.5 113.3h0M1292.5 89.2h0M1292.7 88.5h0M1293 84.4h0M1293.6 89.2h0M1293.6 82.8h0M1293.7 86.3h0M1294 88.2h0M1294.1 85.3h0M1294.7 86.4h0M1295.3 79.4h0M1295.5 82.9h0M1296 78.9h0M1296.2 86h0M1297 82.3h0M1297.2 81.4h0M1297.3 84.2h0M1297.5 85.1h0M1297.5 77.6h0M1297.8 82.7h0M1298 81.3h0M1298.9 77.8h0M1299 79.4h0M1299 79.5h0M1299.2 79.8h0M1299.7 77.5h0M1300 79.4h0M1300.2 78.2h0M1301.3 78h0M1301.5 78.5h0M1302.3 78h0M1302.5 80.6h0M1302.7 82.2h0M1302.8 80.3h0M1302.9 80.3h0M1303 83.3h0M1303.3 75.1h0M1303.5 79.2h0" stroke="#000" stroke-width="3.5" stroke-linecap="round" fill="none"/>
<path d="M218.3 142.4h0M224.4 146.3h0M208.3 297.3h0M565.3 141.3h0M593.4 243.3h0" stroke="#ffa500" stroke-width="3.5" stroke-linecap="round" fill="none"/>
<path d="M105.5 109.1H1360.9" stroke="#008000" stroke-width="2.1"/>
<path d="M162 321.5V35.5" stroke="#800080" stroke-width="2.1" stroke-dasharray="2.1 3.43" fill="none"/>
<path d="M1303 321.5V35.5" stroke="#800080" stroke-width="2.1" stroke-dasharray="2.1 3.43" fill="none"/>
</g>
<rect x="105.5" y="35.5" width="1380.0" height="286.0" fill="none" stroke="#000" stroke-width="1.1"/>
<text x="163.1" y="341.9" font-size="13.89" text-anchor="middle" >0</text>
<text x="353.9" y="341.9" font-size="13.89" text-anchor="middle"  letter-spacing="-0.3">500</text>
<text x="547.4" y="341.9" font-size="13.89" text-anchor="middle"  letter-spacing="-0.3">1000</text>
<text x="739.4" y="341.9" font-size="13.89" text-anchor="middle"  letter-spacing="-0.3">1500</text>
<text x="931.9" y="341.9" font-size="13.89" text-anchor="middle"  letter-spacing="-0.3">2000</text>
<text x="1124.7" y="341.9" font-size="13.89" text-anchor="middle"  letter-spacing="-0.3">2500</text>
<text x="1316.3" y="341.9" font-size="13.89" text-anchor="middle"  letter-spacing="-0.3">3000</text>
<path d="M162.5 321.5v5.4M355.5 321.5v5.4M547.5 321.5v5.4M740.5 321.5v5.4M932.5 321.5v5.4M1124.5 321.5v5.4M1317.5 321.5v5.4" stroke="#000" stroke-width="1.1" fill="none"/>
<text x="94.9" y="54.9" font-size="13.89" text-anchor="end"  letter-spacing="-0.3">9.7</text>
<text x="94.9" y="87.9" font-size="13.89" text-anchor="end"  letter-spacing="-0.3">9.6</text>
<text x="94.9" y="119.9" font-size="13.89" text-anchor="end"  letter-spacing="-0.3">9.5</text>
<text x="94.9" y="152.9" font-size="13.89" text-anchor="end"  letter-spacing="-0.3">9.4</text>
<text x="94.9" y="184.9" font-size="13.89" text-anchor="end"  letter-spacing="-0.3">9.3</text>
<text x="94.9" y="217.9" font-size="13.89" text-anchor="end"  letter-spacing="-0.3">9.2</text>
<text x="94.9" y="249.9" font-size="13.89" text-anchor="end"  letter-spacing="-0.3">9.1</text>
<text x="94.9" y="282.9" font-size="13.89" text-anchor="end"  letter-spacing="-0.3">9.0</text>
<text x="94.9" y="314.9" font-size="13.89" text-anchor="end"  letter-spacing="-0.3">8.9</text>
<path d="M105.5 49.5h-5.4M105.5 82.5h-5.4M105.5 114.5h-5.4M105.5 147.5h-5.4M105.5 179.5h-5.4M105.5 212.5h-5.4M105.5 244.5h-5.4M105.5 277.5h-5.4M105.5 309.5h-5.4" stroke="#000" stroke-width="1.1" fill="none"/>
<text x="794.8" y="26.7" font-size="16.67" text-anchor="middle" >AGASC ID 703727384.0</text>
<text x="732.6" y="311.8" font-size="13.89" text-anchor="middle"  letter-spacing="-0.3">42206</text>
<rect x="1361.4" y="42.6" width="117.29999999999995" height="27.1" rx="2.6" fill="#fff" fill-opacity="0.8" stroke="#ccc" stroke-width="1.1"/>
<path d="M1366.2 54H1396" stroke="#008000" stroke-width="2.1"/>
<text x="1407.1" y="59" font-size="13.89">mag<tspan font-size="9.72" font-style="italic" dy="2.2">AGASC</tspan></text>
<rect x="1348.4" y="247.6" width="130.29999999999995" height="66.9" rx="2.6" fill="#fff" fill-opacity="0.8" stroke="#ccc" stroke-width="1.1"/>
<path d="M1367.4 260.4h0" stroke="#f00" stroke-width="3.5" stroke-linecap="round" fill="none"/>
<path d="M1367.4 281.4h0" stroke="#ffa500" stroke-width="3.5" stroke-linecap="round" fill="none"/>
<path d="M1367.4 302.4h0" stroke="#000" stroke-width="3.5" stroke-linecap="round" fill="none"/>
<text x="1392.2" y="264" font-size="13.89" text-anchor="start" >not OK</text>
<text x="1392.8" y="284.9" font-size="13.89" text-anchor="start" letter-spacing="-0.08">Highlighted</text>
<text x="1392.9" y="305.8" font-size="13.89" text-anchor="start" letter-spacing="-0.8">OK</text>
</g>
<g id="p2">
<clipPath id="c2"><rect x="105.5" y="380.5" width="1380.0" height="286.0"/></clipPath>
<g clip-path="url(#c2)">
<path d="M180.4 522.6h0M180.5 516.5h0M181 507.9h0M181.2 521.7h0M181.9 508.7h0M182.1 513.9h0M182.5 507h0M182.9 520.6h0M183 526.1h0M183.4 516.6h0M183.6 506.4h0M184.2 509.2h0M184.7 520.4h0M185.5 510.3h0M186.5 529h0M187.5 525.5h0M187.7 503h0M187.8 503.5h0M189.3 527.4h0M189.8 500.6h0M190.3 521.4h0M190.5 506.9h0M190.6 512.9h0M191.1 538.9h0M191.1 512.6h0M191.3 530.8h0M191.8 504.3h0M192.1 510.4h0M192.1 508.8h0M192.3 531.7h0M192.5 503.6h0M193.3 497.1h0M193.7 500.5h0M194.3 500.7h0M194.4 493.9h0M194.9 513.4h0M195.1 506.9h0M195.6 495.1h0M195.8 523.4h0M195.8 526.4h0M196 514.1h0M197.4 498h0M197.8 522.7h0M197.9 511.6h0M198.5 510.8h0M199.2 520.9h0M200.2 524.2h0M200.2 496.2h0M200.6 498.7h0M201.1 523.3h0M201.5 499.1h0M201.7 523.7h0M201.8 490.4h0M202.4 516.2h0M203 481.8h0M203.5 506.8h0M203.6 499.7h0M205 471.7h0M205 475.8h0M205.4 515h0M205.7 516h0M205.8 494.8h0M206.6 497.4h0M206.6 504.3h0M207.2 522.8h0M207.8 490.4h0M208 510.6h0M209.2 475h0M209.9 518.3h0M210.3 485.8h0M211.9 496.8h0M211.9 518.6h0M212.2 496.3h0M212.7 514.5h0M212.7 523.7h0M212.9 521.5h0M213 507.9h0M213.1 507.7h0M213.1 502.7h0M213.2 500.6h0M213.4 529h0M213.4 494.1h0M214.2 516.7h0M214.5 498.8h0M214.6 519h0M215.1 512.3h0M215.4 525.3h0M215.8 510.9h0M216.1 524.8h0M216.1 511.1h0M217.7 582.2h0M217.9 528.1h0M219 591.6h0M219.1 586.2h0M219.6 578.9h0M219.7 589.1h0M219.9 582.7h0M220.5 577.6h0M220.8 574.5h0M220.8 586.7h0M221.7 569.7h0M221.9 575.9h0M222.1 569.3h0M222.7 581.6h0M222.7 563.9h0M222.7 591.6h0M222.9 571.5h0M223.1 580.2h0M224.2 593h0M225.3 562.2h0M226 564.6h0M226.6 566.7h0M227 559.3h0M227.4 562.1h0M228.3 560.9h0M229.5 555.4h0M230.3 559.4h0M231.9 532.7h0M232 547.1h0M232.1 540.7h0M232.5 514.2h0M233.8 542.5h0M233.8 550.4h0M233.9 538.1h0M234.8 524.2h0M234.8 556.9h0M235.8 528.8h0M236.3 545h0M236.5 533.5h0M236.6 540.6h0M237 535h0M237.1 551.7h0M237.9 526.9h0M238.3 530.8h0M238.3 547h0M238.4 528.6h0M238.5 541.2h0M238.7 537.4h0M239 529.9h0M239.3 546.2h0M239.5 550.6h0M240.3 540.2h0M241.4 538.2h0M242.3 536.7h0M242.9 552h0M243.2 552.7h0M243.3 540.8h0M243.4 528h0M244.2 566.7h0M244.3 538.8h0M245 511.7h0M245.3 529.3h0M245.4 543.5h0M245.5 532h0M246 524.4h0M246.3 555.6h0M246.7 540.1h0M246.9 531h0M247.5 560.8h0M247.5 542.2h0M247.7 548.5h0M248.9 536h0M249.8 533.7h0M249.8 529.9h0M250.2 533.7h0M250.7 525.1h0M251 546.8h0M251.7 530.7h0M252 522.1h0M253.2 548.5h0M253.4 532.5h0M253.7 543.7h0M254.1 524.4h0M254.2 565h0M254.4 547.8h0M254.5 521.8h0M254.6 529.9h0M254.9 548.1h0M255 560.8h0M255.3 523h0M255.4 515h0M256.5 535.7h0M257.6 513.5h0M257.6 533.1h0M257.6 556.2h0M258.5 546.4h0M259.7 529h0M259.8 525.8h0M259.9 521.8h0M259.9 532.2h0M261.2 539.4h0M261.4 552.5h0M262.1 538.3h0M262.3 547.1h0M262.6 554.6h0M262.9 537.1h0M263 541.2h0M263.7 530.4h0M263.7 518h0M264.1 537.4h0M264.2 533.6h0M264.6 555.4h0M265 540h0M265.2 525.3h0M265.3 550.3h0M266 553.4h0M266.3 533.4h0M267.3 538.5h0M267.7 543.9h0M268.1 538.3h0M268.9 560.7h0M269.2 518.9h0M269.6 552.4h0M270.4 563.8h0M270.6 525.9h0M270.8 549.4h0M271.1 531.2h0M271.6 547.1h0M271.7 541.8h0M271.7 581.7h0M273 531.5h0M273.3 578.3h0M273.5 538.1h0M274.7 524.4h0M275.8 536.3h0M275.8 526h0M275.8 578.3h0M275.9 532h0M276 534.2h0M276 544.5h0M276.4 555.3h0M277.4 546.9h0M277.4 547h0M278.3 553.1h0M279.3 547.3h0M279.7 525.8h0M279.7 525.1h0M279.8 533.7h0M280.6 532.4h0M280.7 535.3h0M281 528.6h0M281.2 540.3h0M281.5 551.4h0M281.9 556.4h0M282.2 551h0M283.1 519.6h0M283.5 545.7h0M283.7 553h0M284.3 530.1h0M284.7 538.3h0M284.7 524.8h0M285.4 540h0M285.6 544.8h0M285.8 564.2h0M286.1 552.9h0M286.1 543.9h0M286.6 529.6h0M286.7 558.3h0M288.4 551.4h0M289.2 545.1h0M289.5 522.8h0M289.8 523.3h0M290 533.2h0M290 550.5h0M290.3 523.5h0M290.8 539h0M291.1 529.6h0M292.3 541.6h0M292.5 539h0M292.5 530.6h0M292.9 534.5h0M294.2 553.3h0M294.8 528.1h0M295 538.7h0M295.4 543.1h0M295.5 543.2h0M296 531.3h0M296 527.5h0M296.1 540.3h0M296.4 527.1h0M296.7 532.6h0M297.6 530.2h0M297.9 539.1h0M298.5 547.3h0M298.6 526.2h0M299.1 523h0M299.4 496.6h0M299.5 485h0M299.9 517.5h0M299.9 523.5h0M300.6 465.8h0M301 525.1h0M301.7 478.3h0M301.9 515h0M302 481.2h0M302 508.1h0M302.5 498.7h0M302.5 517h0M303.5 496.8h0M303.8 495.1h0M303.8 513.5h0M304.8 480.1h0M305 485h0M305.2 522.5h0M305.5 511.9h0M305.5 502.7h0M305.5 482.4h0M306.3 503h0M306.5 503.7h0M306.6 480.3h0M306.6 486.7h0M306.8 504.6h0M307.3 507.7h0M307.4 512.5h0M308 504.6h0M308.6 519.2h0M308.7 513.9h0M308.8 488.3h0M309 517.3h0M309.1 487.1h0M309.3 508.1h0M309.4 493.3h0M309.4 494.4h0M310 486.7h0M310.3 487.3h0M311 484.7h0M311.5 485.4h0M312.7 520.3h0M312.7 512.4h0M313 510.5h0M313.1 493h0M313.3 496.2h0M313.5 508h0M313.5 523.5h0M314.1 511.6h0M314.2 504.8h0M314.5 523.3h0M314.6 512.8h0M315.4 506.6h0M315.9 493.7h0M316.1 501.7h0M316.1 507.3h0M316.4 512.8h0M316.6 507.8h0M317.2 496.4h0M317.6 528.3h0M318 530.1h0M318.2 490.8h0M318.5 492.7h0M318.6 512.7h0M318.7 509.2h0M318.8 512.2h0M320 533h0M320.2 526.1h0M320.8 511.9h0M321.4 527.7h0M321.4 512.8h0M321.6 533.5h0M321.7 521.6h0M321.8 526.8h0M324.1 534h0M324.6 536.4h0M325.2 531.9h0M326.1 555.8h0M326.3 553.1h0M326.7 541.8h0M326.9 539.8h0M326.9 546.7h0M327.3 558.9h0M330.1 562.5h0M332.8 504.2h0M333.4 505.1h0M334.1 517h0M334.2 504.9h0M335.7 515.1h0M336.3 517h0M336.4 520.7h0M337.6 541.9h0M337.7 528.6h0M338.1 530.4h0M338.3 527h0M339 541h0M339 536.5h0M339.3 491.2h0M339.3 542.7h0M339.3 487h0M339.9 497.2h0M340 483.8h0M340.2 492.5h0M341 498.4h0M341.8 487h0M342.2 477.9h0M342.4 496.9h0M343.5 480h0M343.7 490.4h0M343.8 478.1h0M345 487.4h0M345 480.1h0M345.3 481.1h0M346.2 476.1h0M346.2 486.5h0M346.2 477.4h0M346.8 478h0M347 488.5h0M348.2 480.9h0M349.6 486.5h0M349.7 474.6h0M350.2 489.9h0M351.1 476.5h0M351.4 487.7h0M351.6 486h0M351.6 493.3h0M351.7 496.3h0M351.9 507.5h0M352.5 478.7h0M352.7 492.2h0M353.1 498h0M353.6 492.7h0M353.6 490.6h0M354 494.2h0M354 482.4h0M354 474.8h0M354.7 484h0M354.7 473.6h0M355.6 472h0M355.8 492.1h0M356.2 477.2h0M356.7 515h0M358 499.3h0M358.3 503.3h0M358.8 506h0M358.8 478.9h0M358.9 496h0M359.4 471h0M359.4 494.3h0M360.5 478.3h0M360.6 499.1h0M361.1 475.5h0M361.2 479.8h0M361.7 490.6h0M361.9 490h0M362.5 497.7h0M362.9 473.5h0M363.3 483.7h0M363.3 487.4h0M363.4 468.6h0M363.6 494.1h0M364.1 480.3h0M365.1 495.5h0M365.5 458.3h0M365.5 495.5h0M366.8 474.6h0M367.7 472.6h0M368.3 476.1h0M368.3 482.7h0M368.8 492.5h0M369 479.1h0M369.7 493h0M370.2 463.8h0M371.1 488.6h0M371.4 486.5h0M371.7 478.4h0M371.8 471.7h0M372.6 482h0M372.6 494.8h0M372.7 479.5h0M373.2 488.7h0M374.6 472.2h0M374.7 470h0M375.4 472.3h0M376 472.7h0M376 494.7h0M376.1 463.8h0M376.1 491.4h0M376.4 488h0M377.2 478.7h0M377.9 484.2h0M378 489.6h0M378.1 478.2h0M379.2 479.5h0M379.7 483.1h0M379.9 485.4h0M380 502.5h0M381.1 502.2h0M381.4 483.7h0M381.8 494.6h0M382.4 480.2h0M382.7 484.8h0M382.8 482.7h0M383 484.6h0M383.4 498h0M383.5 501.8h0M383.8 494.6h0M384.5 495h0M385.1 503.7h0M385.2 487.6h0M386.3 478.9h0M386.3 475h0M386.5 489.7h0M386.7 486.7h0M387.5 507.5h0M387.6 486.9h0M388.4 480.3h0M388.7 486h0M389 498.6h0M389 478.2h0M389.3 476.5h0M389.5 472.5h0M390.3 498.8h0M390.4 502.9h0M390.9 484h0M391.5 480.4h0M391.8 479.7h0M392.1 482h0M392.7 495.8h0M392.9 508.3h0M393.7 477.8h0M394.5 473.7h0M394.9 485.1h0M394.9 488.5h0M395 478.3h0M396.3 481.2h0M396.5 493.8h0M396.6 490.3h0M396.9 504.6h0M397.6 492.5h0M397.8 478h0M398.6 494.8h0M398.9 487.5h0M399.1 499h0M399.4 494.6h0M399.7 493.6h0M400.2 492.5h0M400.2 506.3h0M400.3 480.9h0M401.6 513.8h0M401.7 488.1h0M401.9 493.7h0M402.1 501.3h0M402.5 511.6h0M403 515.3h0M403.4 512.9h0M403.6 516h0M403.8 512.9h0M404.5 504.4h0M405.4 524.9h0M406.9 577.3h0M407 552.4h0M407.5 545.1h0M408.1 562.8h0M408.3 578.3h0M408.7 558.6h0M409.1 555.6h0M409.5 574.4h0M409.6 559.8h0M410.6 551.8h0M410.7 565.3h0M411.3 566.3h0M411.8 552.7h0M411.9 554.6h0M411.9 552.8h0M412.8 564.6h0M413.4 564.8h0M413.9 576.7h0M414 565h0M414.3 566.1h0M414.5 569.2h0M415 572.5h0M415.6 555.4h0M415.7 544.2h0M416.5 549.9h0M416.6 543.8h0M416.6 577.1h0M416.9 553.4h0M416.9 538.8h0M418.6 547h0M419.1 570.7h0M419.9 560h0M420.1 552.3h0M420.4 556.1h0M420.8 544.1h0M421.2 551.4h0M421.3 544.8h0M421.8 539.8h0M423.1 537.9h0M423.2 552.6h0M423.6 549.1h0M425 519.2h0M425 528.2h0M425.1 545.2h0M425.6 544.5h0M425.8 545.6h0M426.8 545.4h0M427.1 551.7h0M427.9 536.1h0M428.6 532.9h0M428.6 549.7h0M428.7 544.7h0M428.7 553.8h0M428.8 543.9h0M429.3 543.2h0M429.3 556.1h0M429.5 546.1h0M430 527.5h0M431.1 515.3h0M431.2 514h0M432.3 509.4h0M432.3 491.3h0M432.8 482.1h0M433.4 489.2h0M433.6 500.7h0M434.3 507.2h0M434.7 489.7h0M435.3 491.9h0M435.6 512.7h0M435.6 501.6h0M436.6 517.1h0M437.3 506.2h0M438 506.3h0M438.1 488.8h0M438.3 491h0M438.6 499.6h0M439.3 490.5h0M439.5 492h0M439.6 518.1h0M439.8 521.3h0M440 517.2h0M440 503.1h0M441 492.2h0M442.8 506.1h0M442.9 510.3h0M443.4 485.5h0M443.4 497h0M444.4 506.1h0M444.5 483.2h0M444.8 503.2h0M444.9 490.7h0M445.1 526.7h0M445.4 498.5h0M445.4 493.3h0M445.7 516h0M445.8 509.4h0M446.3 519.5h0M446.5 510.4h0M446.8 491.9h0M446.8 499.6h0M447.3 487h0M448 514.8h0M448.2 496h0M448.2 492.2h0M448.3 517.6h0M448.7 516.7h0M451.7 498.3h0M452.1 501.9h0M452.2 506h0M452.6 515.4h0M453.4 517.9h0M453.5 510.5h0M453.9 514.9h0M454.1 502.7h0M454.4 529.1h0M454.6 494.4h0M455.2 505.4h0M455.6 508.5h0M456.4 500.6h0M456.4 493.7h0M457.4 491.9h0M457.7 521.8h0M457.7 511.4h0M458.4 505h0M458.6 524.4h0M459.3 498.1h0M459.4 517.5h0M459.9 530.9h0M460.5 515.9h0M460.8 516.4h0M461.2 501.5h0M461.3 528.4h0M461.7 510.1h0M461.8 546.1h0M462 533.5h0M462 546.1h0M462.1 533.9h0M463.9 530.8h0M464.4 538.7h0M464.6 544.4h0M465 525.3h0M465.9 538.5h0M466.6 548.6h0M466.7 556.7h0M467.1 515.5h0M467.3 535.6h0M467.4 541.4h0M467.9 537h0M467.9 537h0M467.9 540.7h0M468.9 551.2h0M469.2 533.2h0M469.7 550.2h0M470.1 532.6h0M471 531.8h0M471.2 537.6h0M471.4 543.6h0M471.4 528.8h0M471.5 531.8h0M471.9 543.6h0M472.4 544.7h0M472.5 540.6h0M472.5 555.8h0M472.7 542.9h0M474.2 555.9h0M474.6 549.3h0M474.7 533h0M475 528.7h0M475.1 550.9h0M475.7 554h0M475.8 518.5h0M476.1 551.4h0M476.6 540.1h0M476.9 535h0M477.3 544.1h0M477.9 559.3h0M477.9 537.4h0M478.2 534.4h0M478.4 543.4h0M479.9 536.3h0M480 539.2h0M480.7 523.1h0M481.7 543.6h0M482.9 531.1h0M483 554.6h0M483.6 543.9h0M484.2 551.3h0M484.7 549.4h0M485 544.7h0M485.5 551.7h0M485.5 529.5h0M485.6 557h0M486.2 538.2h0M486.7 560h0M487.3 535.7h0M487.3 541.2h0M487.5 539.2h0M487.8 554.6h0M488.3 543.9h0M489.5 546.3h0M490.4 527.9h0M490.4 527.3h0M490.7 540.5h0M490.8 526.7h0M491 544.9h0M491.1 540.1h0M491.1 536.2h0M491.6 546.3h0M491.7 533.1h0M491.8 538.7h0M493.8 536.9h0M494.2 529.2h0M494.3 550.6h0M494.9 536.9h0M494.9 541.3h0M495 542.5h0M495.3 537h0M495.4 549h0M495.7 533.4h0M495.7 532.6h0M496 533.7h0M497.2 528.9h0M497.4 534.9h0M497.9 534.2h0M498 528.5h0M498.3 534.7h0M498.5 526.1h0M498.8 530.1h0M499.3 557.1h0M500.7 554.6h0M500.9 556.7h0M502.1 552.2h0M502.9 553.2h0M503.3 536.3h0M503.6 525.7h0M503.6 528.2h0M503.7 555.5h0M504 530.6h0M504.2 562.5h0M505 540.5h0M505.2 536.8h0M506.1 528.7h0M506.4 532.2h0M506.5 533.4h0M506.5 553.4h0M506.7 526.7h0M507.2 537.2h0M507.2 544.6h0M507.5 547.7h0M508.9 548.8h0M509.2 539.4h0M509.8 544.6h0M510.1 547h0M510.1 525.2h0M510.2 550.5h0M510.3 532h0M510.5 525.6h0M511.4 544.1h0M512.1 537.4h0M512.1 533.9h0M512.3 529.2h0M512.4 549.2h0M513.5 548.9h0M514.7 527.7h0M515.3 520.8h0M515.5 549.6h0M515.6 525.6h0M516 541.7h0M516.7 529.8h0M516.8 547.3h0M517 512.6h0M517 529h0M517.1 517.5h0M518.4 518.8h0M518.7 525.1h0M518.8 522.7h0M519.2 508.7h0M519.3 511.7h0M519.6 525.8h0M520.9 527.9h0M522.4 514.6h0M522.5 523.4h0M522.5 536.7h0M523.1 508h0M523.4 518.8h0M523.6 508.9h0M523.6 516.8h0M523.7 522.5h0M523.8 507.9h0M524.6 526.9h0M525.4 515.4h0M525.5 528h0M526.1 519.2h0M526.3 509.1h0M526.6 515.7h0M526.9 521.2h0M527.2 503.6h0M527.4 507.1h0M528 512.6h0M528.1 512.2h0M528.1 509.1h0M529.3 510.5h0M529.7 510.1h0M530.5 510.9h0M530.9 516.7h0M531.2 510.8h0M532.2 525.4h0M532.4 513.4h0M532.9 503.7h0M533.3 504h0M533.6 517.6h0M533.8 515.6h0M533.8 521.9h0M534.1 514.6h0M534.2 495h0M535.4 521.6h0M536.4 516.4h0M536.7 530.8h0M536.8 512.3h0M537.2 527.6h0M537.3 521.5h0M537.8 516.6h0M537.9 507.3h0M538 513.4h0M538.4 523.5h0M538.7 516.1h0M539.6 509h0M540.3 503h0M541.2 517.3h0M541.3 521.2h0M541.3 518.7h0M541.3 509.6h0M541.4 500.7h0M541.8 509.4h0M542.5 509.7h0M542.9 512h0M544.4 508.5h0M544.4 530.4h0M544.8 502.6h0M545 531.3h0M545.2 517.5h0M545.8 522.2h0M546.5 503.9h0M546.7 495h0M546.7 514.2h0M546.7 513.6h0M547 521.8h0M547.5 510.8h0M547.7 511.2h0M548 516.3h0M548.4 502.7h0M548.5 510h0M548.7 520.9h0M548.8 499.8h0M550 523.5h0M550.8 516.9h0M551.7 504.9h0M551.9 508.4h0M552.1 512.7h0M552.9 522.1h0M553.1 502.7h0M553.3 521h0M553.4 495.9h0M554 495.6h0M554 519.5h0M555.3 513.8h0M556.5 485.2h0M556.7 495.7h0M557.3 486.3h0M557.9 481.8h0M558.3 515.6h0M558.5 507.6h0M558.6 485.9h0M558.6 493.1h0M558.6 502.8h0M559 503.4h0M559 478.5h0M559 514.4h0M559.2 490h0M559.5 476.3h0M559.6 494.1h0M559.6 497.8h0M560.2 490.1h0M560.7 498.7h0M560.8 503.8h0M561.2 480.1h0M561.4 489.7h0M561.5 489.8h0M562 502.5h0M562 474.8h0M562.4 501.1h0M563 500.7h0M563.4 504.3h0M563.9 493.4h0M564.5 519.1h0M564.6 492.9h0M564.8 500.6h0M565.5 491.6h0M565.5 509h0M565.6 491.6h0M566.4 500.9h0M566.6 508.5h0M566.7 505.8h0M567.1 518.7h0M567.8 513h0M567.9 493.6h0M568.1 498.3h0M568.2 496.4h0M568.5 493.3h0M568.7 513.7h0M568.7 494.6h0M569 487.7h0M569.6 495.7h0M569.7 509.4h0M569.9 500.2h0M570.3 494.8h0M570.5 527.6h0M570.6 498.6h0M570.6 494.7h0M570.7 516.9h0M571 514.3h0M573.7 514.4h0M573.9 497.5h0M574.3 517.2h0M574.6 518.7h0M575 495.8h0M575.5 499.7h0M575.6 511.5h0M576.1 512.4h0M577.3 513.5h0M577.3 517.6h0M577.3 515.8h0M577.6 511.5h0M577.9 497.7h0M578.3 507.1h0M579.2 500.1h0M579.5 522.9h0M580.9 510.3h0M581.1 517.7h0M581.3 484.2h0M581.5 512.4h0M581.6 496.2h0M582.3 510.7h0M582.4 511.6h0M582.4 502h0M583.1 521.5h0M583.2 518.1h0M583.5 511.8h0M583.7 522.7h0M584.7 517h0M584.9 512.5h0M585.2 518.6h0M586.5 505.7h0M587.7 502.7h0M587.8 519.7h0M587.9 510.6h0M588.7 526.2h0M588.7 518.3h0M589.1 531.9h0M589.5 537.5h0M589.9 529.1h0M590.3 518.7h0M590.8 509h0M591 512.3h0M591.4 505.7h0M592.1 528.2h0M592.2 520.5h0M592.2 538.1h0M592.4 515.8h0M592.8 513.4h0M593.3 489.2h0M593.5 535.6h0M594.6 517.8h0M595.1 510.2h0M595.2 514.2h0M596 520.7h0M596.6 497.3h0M596.9 503.1h0M597 510.8h0M597.3 501h0M597.4 506.2h0M598 505.6h0M598.4 526.5h0M598.4 525.1h0M598.7 509.4h0M598.8 519h0M598.8 499.4h0M601.1 517.3h0M601.6 530.9h0M603.3 539.8h0M603.3 530.8h0M604.3 551.6h0M605.1 545.3h0M605.2 543h0M605.4 555.8h0M605.8 567.2h0M605.9 550.3h0M606.4 556.4h0M606.8 564.3h0M607.4 567.1h0M607.5 555.7h0M607.8 560.6h0M607.9 548.2h0M609 565.2h0M609 564.1h0M609.2 570.3h0M609.6 563h0M609.8 572.1h0M610.4 563.7h0M610.6 573.8h0M611.5 568.9h0M611.6 574.1h0M611.6 561.3h0M611.8 560.4h0M612.1 576.2h0M612.2 565.9h0M613 562.1h0M614.2 532.5h0M614.3 558.9h0M614.4 554.9h0M615.3 570.8h0M615.5 542.1h0M616.1 556.7h0M616.3 541.1h0M617.8 553.7h0M618.3 540.8h0M618.8 552.4h0M618.9 562.1h0M619 558.2h0M619.9 549.2h0M620.1 554.5h0M622.5 571.7h0M622.9 539.4h0M623.7 551.7h0M623.7 538.6h0M623.9 549.9h0M624 543.2h0M624.2 561.7h0M624.6 550.8h0M625.2 532h0M625.3 548.5h0M625.7 544.3h0M625.8 544.8h0M626.5 531.1h0M626.6 549.8h0M626.7 518.5h0M626.7 542h0M627 542.9h0M627.5 537h0M627.7 540.2h0M627.8 517.2h0M628 550.6h0M628.2 532h0M628.7 538.3h0M628.9 520.7h0M629.2 505.8h0M629.3 527.7h0M629.7 508.3h0M629.8 542h0M630 518.3h0M630.1 517.9h0M630.9 535.7h0M631.8 527.4h0M632.4 530.1h0M632.5 550.1h0M633.7 539.7h0M633.8 533.4h0M635 536.9h0M635.2 525.2h0M636 534.6h0M636.1 542.6h0M636.6 534.8h0M636.8 542.2h0M637 535.4h0M637 528h0M637.5 549.2h0M637.9 532.3h0M638.4 519.3h0M638.5 523.3h0M638.7 529.7h0M638.8 534.9h0M638.8 535.8h0M640.3 540.8h0M640.4 533.5h0M641.2 535.9h0M641.9 537.1h0M642.2 538.3h0M643.3 528.3h0M643.6 533.4h0M643.6 530.9h0M643.7 527.2h0M643.7 517.7h0M644.5 524.9h0M645.3 543.6h0M645.3 531.5h0M645.6 543.7h0M646.2 543.1h0M647 541.2h0M647.5 533.9h0M647.6 536.1h0M647.7 524.3h0M649 521.6h0M649 544.2h0M649.2 550.8h0M649.7 545h0M649.8 539.7h0M650.2 551.5h0M650.6 548.6h0M650.8 540h0M650.8 558.8h0M650.9 549.4h0M652.3 537.4h0M652.5 530.2h0M653.5 533.6h0M653.6 536.9h0M654 526.2h0M654.4 533.1h0M654.9 542.8h0M655 519.2h0M655 549.9h0M655.3 535.5h0M655.6 549.7h0M657.3 545.9h0M657.4 538.7h0M657.5 528.1h0M657.5 548.3h0M657.5 533.5h0M657.7 548.6h0M657.8 554.8h0M658 529.3h0M658.3 546.1h0M658.7 539.7h0M658.9 546.7h0M659.2 528.4h0M660 529.4h0M660.1 542.6h0M660.2 534.5h0M660.6 524.8h0M661.3 506.7h0M663.5 539.7h0M663.6 545h0M664.3 530.8h0M664.9 548h0M665 541.2h0M665.3 552.4h0M666.1 526.9h0M666.4 561.9h0M667.1 531.3h0M667.3 547.4h0M667.9 534.9h0M668.1 531.8h0M668.3 532.4h0M668.8 549.6h0M669.2 562.5h0M669.6 549.1h0M670.8 541.9h0M672.3 554.2h0M672.9 524.3h0M673.1 539h0M673.3 526.1h0M673.5 562.1h0M674.2 519.2h0M674.2 533h0M674.5 553.6h0M675 543.9h0M675.2 529.5h0M675.2 545.6h0M675.6 529h0M676.1 533.3h0M676.2 555.2h0M676.5 541.9h0M676.8 548.1h0M677.3 544.3h0M677.5 523.2h0M678.9 532h0M679.2 559.2h0M679.3 541.2h0M679.4 541.1h0M679.5 534.9h0M679.6 545.8h0M681.2 526.1h0M682.2 527h0M682.2 537.2h0M682.2 547.9h0M682.3 527.5h0M682.6 546.4h0M682.9 516.3h0M683.1 524.8h0M684 545h0M684.4 517.8h0M684.5 554.4h0M685.7 538.1h0M685.8 539.6h0M686.4 534h0M686.7 534.6h0M686.7 506.7h0M686.7 542.5h0M686.8 547.8h0M687.5 548.9h0M687.9 532.8h0M688.3 545.7h0M689.3 521.4h0M689.4 530.5h0M689.8 545.6h0M690.9 540.1h0M691.1 545.1h0M691.1 521.1h0M691.7 555h0M691.9 532.6h0M692 549.3h0M692.6 531h0M693.4 544.6h0M693.9 521.5h0M694.3 542.7h0M694.5 548.6h0M694.7 528.5h0M695 529.9h0M695.3 524.5h0M696.3 529.9h0M696.4 529.6h0M696.5 543.7h0M697.9 481.9h0M698.5 493.7h0M699.2 485h0M699.9 484.2h0M699.9 509.4h0M700.4 504.9h0M700.7 508.4h0M701 513h0M701.1 487h0M701.1 496.8h0M701.6 484.7h0M701.8 502.6h0M702.4 502.6h0M702.5 492.5h0M702.7 510.8h0M703.3 505.9h0M703.3 506h0M703.4 487.3h0M704.2 481.7h0M704.4 493.8h0M704.9 492.2h0M705.8 493.3h0M705.9 491.8h0M707.5 493.7h0M708.2 503.2h0M708.5 501h0M709.1 484.9h0M709.4 508.2h0M710.5 507.7h0M710.9 490.5h0M711.1 494.3h0M711.7 509h0M711.9 506.8h0M712.1 508.3h0M712.2 488.4h0M712.3 482h0M712.7 510.5h0M713.2 481.9h0M713.6 502.9h0M713.8 485.8h0M714.7 502.1h0M715.5 475.5h0M716.2 501.3h0M716.3 506.6h0M716.4 503.7h0M716.4 488.1h0M716.7 489.3h0M717.1 506.4h0M717.5 492.6h0M718.2 494.9h0M718.5 498.1h0M718.7 483.9h0M719.1 507.7h0M720.1 501.3h0M720.6 506.7h0M721 510.2h0M721.6 505.7h0M722.1 503h0M722.7 514.2h0M723 492.5h0M723.3 515.2h0M723.3 482.5h0M724.1 495.3h0M724.2 495.4h0M724.2 506.1h0M724.7 492.3h0M724.8 507.8h0M725.2 506h0M725.4 506.4h0M725.5 499.3h0M725.8 492.5h0M726.3 507.1h0M727.7 502.6h0M729.1 510.5h0M729.8 509h0M730.1 513.2h0M730.1 532.6h0M730.3 539.7h0M730.3 513.6h0M730.4 524.3h0M730.7 525.7h0M731.5 539.9h0M731.6 533.5h0M731.6 515.6h0M731.7 514.6h0M732 519.7h0M732.2 516.3h0M732.3 510.8h0M732.9 535.9h0M733.1 541.4h0M733.3 522.5h0M733.3 546.3h0M733.6 518.3h0M733.7 516.6h0M733.7 520.1h0M733.9 536.5h0M734 523.2h0M734.3 530.4h0M734.5 536.3h0M734.6 507.1h0M734.8 520.7h0M735.3 519.9h0M735.3 525.1h0M735.4 518.8h0M736.6 530h0M737.1 534.9h0M737.1 530.7h0M737.2 523.9h0M737.3 522h0M737.5 522.5h0M738.1 520.5h0M739.3 519.8h0M739.4 521.5h0M739.6 535.1h0M739.9 533.7h0M740.4 544.1h0M740.6 530.2h0M740.7 526.7h0M741.2 544.8h0M741.7 527.6h0M742.6 521.6h0M742.9 530.4h0M743.2 541.3h0M743.9 535h0M744.9 528.3h0M745.1 530.3h0M745.3 534.4h0M745.9 524.5h0M745.9 538.6h0M746.2 509h0M746.6 538.5h0M746.8 537.4h0M747.1 539.2h0M747.5 529.3h0M748 521.8h0M748.5 535.6h0M749.4 503.9h0M749.9 525.9h0M750.5 535h0M750.5 519h0M750.6 509.8h0M750.8 522.2h0M751.3 524.6h0M751.7 522.5h0M751.7 509.1h0M751.8 510.6h0M752.2 528.2h0M753 508.9h0M753.1 527.4h0M753.2 505.7h0M754.9 519.7h0M755.1 520.9h0M755.4 508.1h0M756.5 505.8h0M756.6 511.7h0M756.7 492.5h0M756.7 524.1h0M756.8 523.1h0M757.3 502.6h0M757.5 502.9h0M757.6 525.3h0M757.7 515.6h0M757.9 508.1h0M758.2 516.9h0M758.3 513.9h0M758.5 503h0M758.9 531.4h0M759.4 511.9h0M760.5 502.1h0M761.1 504.2h0M761.5 524.3h0M762 507.7h0M763.7 521.8h0M764 513h0M764.1 518.8h0M764.1 510.1h0M764.5 512.1h0M764.8 510.3h0M764.9 512.2h0M765 511.7h0M766.5 523.1h0M766.8 506h0M767 507.3h0M767.5 540.8h0M767.6 523.6h0M768.3 523.8h0M768.4 507h0M769.7 532.3h0M770.5 510.4h0M770.5 503.4h0M770.8 529.3h0M771 513.4h0M771.4 511.5h0M771.4 509.1h0M772.9 507.3h0M773.1 508.3h0M773.2 502.8h0M773.3 518.8h0M774 508h0M774.4 503.1h0M775 526h0M776 508.2h0M776.2 520.8h0M776.3 520.6h0M776.7 508.9h0M777 506.7h0M777.6 505.5h0M778 508.6h0M778.2 515.5h0M778.3 531.3h0M779 503.1h0M779.2 523.7h0M779.7 520.8h0M780.1 525.4h0M780.6 513.1h0M780.8 524.2h0M781.2 527.3h0M781.7 536.3h0M782.6 525.3h0M783 528.9h0M783.1 506.1h0M783.1 513.3h0M783.3 497.5h0M783.4 520.6h0M784 510.6h0M784.1 520.3h0M784.6 526.7h0M785 513h0M785.1 518.4h0M785.3 523.5h0M786.1 527.3h0M786.8 506.5h0M786.9 510.1h0M787.1 522h0M787.2 535.2h0M787.8 503.6h0M788.1 509.8h0M788.3 517h0M788.7 518.2h0M790.5 512.3h0M790.8 537.5h0M791.1 511.4h0M791.5 525.1h0M791.7 511h0M791.8 519.4h0M792.4 524.2h0M792.4 532.1h0M793.3 519.7h0M793.4 552h0M793.4 560.6h0M793.5 565.4h0M794 520h0M794 522.7h0M794.2 549.2h0M794.7 557.1h0M795.3 563.2h0M796.5 545.5h0M796.8 553.9h0M797.3 564.2h0M797.5 568.3h0M797.6 544.4h0M797.8 552.3h0M798.1 546.7h0M798.2 544.8h0M799.2 573.3h0M799.7 562.3h0M799.8 562.1h0M799.8 550.7h0M800.8 552.1h0M800.8 558.2h0M800.8 540h0M800.9 552.1h0M801 553.9h0M801 545h0M803.3 547h0M803.5 561.4h0M803.6 561.5h0M803.6 554.8h0M804 556.8h0M804 555.4h0M805.2 555.9h0M805.2 547.7h0M805.3 546.4h0M806.1 559h0M806.2 551.5h0M806.5 556.6h0M807.7 553.6h0M808.2 551.7h0M808.3 543.4h0M809.1 559.2h0M809.5 544.3h0M809.7 544.3h0M810.2 544.4h0M811 545.5h0M811.9 540h0M812.3 539.9h0M812.4 545h0M812.6 546.8h0M812.6 545h0M813.1 535.3h0M813.3 539.2h0M813.9 540.6h0M814.5 540h0M814.6 538.3h0M816.1 533.7h0M816.6 519.3h0M816.8 534.9h0M816.8 533.5h0M817.2 532.4h0M817.8 522.6h0M818.1 537.6h0M818.3 519.6h0M819.4 526.6h0M820 530.9h0M820.2 531.5h0M820.3 517.7h0M821.1 537.3h0M821.4 534h0M822.8 515.4h0M822.9 535.5h0M823 523.2h0M823.3 532.1h0M823.4 524.1h0M823.4 516.5h0M824.5 532.4h0M824.7 533.7h0M825.8 530h0M825.9 522.7h0M826.1 532.7h0M826.6 534.5h0M827.3 523.8h0M827.8 519.4h0M827.8 520.8h0M828.2 513.4h0M829.2 518.6h0M829.7 530h0M830.2 505.5h0M830.3 509h0M830.6 521.6h0M830.6 533.3h0M830.7 517.3h0M831.7 497.5h0M831.7 513.3h0M832.5 474.2h0M833.3 484.2h0M833.3 490h0M833.3 493.3h0M834 557.9h0M834.2 506.7h0M834.9 535.2h0M835 521.7h0M835.7 550.5h0M836.6 535h0M836.8 556.4h0M836.9 554.8h0M837.3 544h0M837.5 558.1h0M838.4 537h0M839 566.3h0M839 541.9h0M839.7 573.3h0M839.9 546.8h0M840 574.5h0M840.6 573.2h0M840.6 566.3h0M841 560.2h0M841.8 562.6h0M842.4 580.5h0M842.7 573.4h0M842.8 575.4h0M843.3 577.8h0M843.8 578.5h0M844 578.3h0M844.2 564.4h0M844.4 591.6h0M844.5 581.8h0M844.9 580.5h0M846 584.5h0M846.1 586.5h0M846.1 566.8h0M846.2 584.7h0M846.3 568.1h0M846.4 584.9h0M846.7 579.1h0M848 570h0M848.9 560.3h0M849.2 560.6h0M849.3 573.3h0M849.5 573.8h0M850.2 567.3h0M850.3 566.7h0M850.4 563.7h0M850.7 571.8h0M851.2 570.8h0M851.3 579.2h0M852 569.1h0M852.1 563.7h0M852.4 570.6h0M853.1 560.6h0M853.2 567.4h0M853.7 572.9h0M853.9 560.8h0M854 566.2h0M854.4 558.3h0M854.6 583.5h0M854.8 565.1h0M1016.5 523.3h0M1016.7 521.3h0M1017.7 521.1h0M1017.8 512.3h0M1017.9 517.9h0M1017.9 533.2h0M1018 518.5h0M1018.2 514.7h0M1018.2 518.4h0M1019 510h0M1019.1 526.8h0M1020 542.5h0M1020.8 517.1h0M1020.8 502.3h0M1021.4 512.6h0M1021.8 501.9h0M1022.1 524.3h0M1022.3 508.9h0M1023.9 519.2h0M1024.2 496.3h0M1024.2 527.8h0M1024.3 529.1h0M1025.2 505.8h0M1025.3 509.3h0M1026.5 503.3h0M1026.7 517.5h0M1026.7 530h0M1026.9 509.7h0M1027 504.9h0M1027.1 520.3h0M1028 527.6h0M1028.6 522.9h0M1028.7 497.2h0M1028.7 519.2h0M1029.3 520.7h0M1029.4 516.4h0M1029.5 519.1h0M1029.9 536.7h0M1031.2 503.7h0M1032.2 524.1h0M1032.3 507.9h0M1032.8 488.8h0M1033.1 498.1h0M1034.2 495h0M1034.4 498.4h0M1034.6 517.2h0M1035 513.6h0M1035.6 518.5h0M1036.7 499.9h0M1036.8 503.4h0M1037.7 536.2h0M1038.8 512.7h0M1038.8 488.7h0M1038.9 527.4h0M1039.1 509h0M1039.6 522h0M1040 522.5h0M1040.3 530.5h0M1040.3 519.6h0M1040.3 512.7h0M1040.7 506.8h0M1041.2 529h0M1041.9 501.2h0M1042.5 510.7h0M1042.6 499.9h0M1043.3 532.4h0M1043.4 520.6h0M1043.5 528.5h0M1044.7 490.1h0M1044.8 522.5h0M1046 513.7h0M1046.5 518.9h0M1047.1 520.9h0M1047.3 527.2h0M1047.5 521.1h0M1048 498.8h0M1048.3 521.4h0M1049.4 513.1h0M1050 489.7h0M1050.2 519.4h0M1050.3 515.1h0M1050.9 515.9h0M1052.1 502.7h0M1052.5 502.9h0M1053.4 514.8h0M1053.7 516.1h0M1054 502.9h0M1054.1 514.3h0M1054.4 503.7h0M1054.5 526.1h0M1054.7 501.1h0M1055 527.3h0M1055.2 493.6h0M1055.3 518.9h0M1055.3 522h0M1055.9 541.8h0M1056.2 553.8h0M1056.5 549.4h0M1056.8 546.8h0M1057.5 544.2h0M1058 550.6h0M1058.2 551.2h0M1058.2 553.6h0M1058.5 554.3h0M1059 548.7h0M1059.3 554.9h0M1059.4 547.3h0M1059.7 546h0M1059.8 554.8h0M1060.6 557.5h0M1061.1 559.1h0M1061.4 568.3h0M1061.7 528.3h0M1061.9 556.6h0M1062.1 551.4h0M1062.5 535.8h0M1062.5 563.1h0M1062.8 553.5h0M1062.8 556.5h0M1063.3 540h0M1064.3 556.6h0M1064.4 570h0M1064.7 559.8h0M1065.7 565.1h0M1065.8 565.7h0M1065.9 562.5h0M1066.3 566h0M1066.4 563.6h0M1066.6 562.1h0M1066.6 562.6h0M1066.7 558.8h0M1067.4 559.8h0M1067.7 562h0M1068.4 562.9h0M1069.4 554.1h0M1069.8 556.2h0M1070 556.9h0M1070.3 563.4h0M1070.4 559.6h0M1070.7 551.2h0M1070.8 554.2h0M1072 541.6h0M1072.2 524.5h0M1072.4 539h0M1072.5 517.1h0M1073.5 536.4h0M1074.1 527.2h0M1074.5 535.9h0M1075 515.7h0M1075 509.2h0M1075.3 515.1h0M1075.7 536.5h0M1075.9 519.3h0M1076.2 535.3h0M1077.1 534.4h0M1077.2 535.7h0M1077.2 541h0M1077.4 530.2h0M1077.5 547h0M1077.6 518.1h0M1078.5 517.1h0M1080.4 538.3h0M1082.3 525.7h0M1082.4 542.6h0M1082.5 533.9h0M1082.9 515.8h0M1083.5 524.9h0M1084.2 544.7h0M1084.3 522.7h0M1084.5 514.3h0M1084.7 548.7h0M1084.8 540.4h0M1084.8 526.8h0M1084.8 539.1h0M1085.8 548.7h0M1086.1 531.2h0M1087.7 540.4h0M1088.1 529.5h0M1088.5 523.5h0M1088.7 534.9h0M1088.8 516.6h0M1089.2 519.7h0M1089.3 543h0M1089.3 537.1h0M1090.2 522.1h0M1090.3 523.8h0M1090.4 511h0M1092.6 491.5h0M1093.3 496.1h0M1093.4 515.5h0M1093.4 504.1h0M1094.2 490h0M1094.8 512.6h0M1095.2 495h0M1095.5 506.4h0M1095.7 502.6h0M1096.9 500.3h0M1097 508.6h0M1097.4 513.1h0M1097.4 499.1h0M1097.6 509.2h0M1097.7 497.3h0M1097.7 504.5h0M1099 503.9h0M1099.4 493.5h0M1099.9 491.6h0M1100.2 500.4h0M1100.9 501h0M1101.2 507.4h0M1101.2 494.6h0M1101.6 493.9h0M1101.6 498.9h0M1102.3 480.1h0M1102.4 486.6h0M1102.6 489.6h0M1102.8 481.3h0M1102.9 485.3h0M1103.1 488.7h0M1103.1 472.9h0M1103.9 505.5h0M1104.1 483.5h0M1104.1 485.2h0M1104.2 507.5h0M1104.2 483.7h0M1104.3 495.2h0M1104.5 505h0M1104.6 488.5h0M1105.1 485.2h0M1105.1 485.7h0M1105.3 487.3h0M1105.4 471.6h0M1106 476.7h0M1106.9 474.1h0M1108 471.1h0M1108.3 506.7h0M1108.5 490.8h0M1109.4 484.2h0M1109.5 475.8h0M1110.8 498.4h0M1111.3 474.1h0M1111.5 472.6h0M1112 480.5h0M1112.4 476.2h0M1112.6 484h0M1112.6 474.9h0M1112.9 484.1h0M1112.9 481.1h0M1113.6 489.9h0M1114 479.2h0M1114.2 506.3h0M1114.7 479h0M1115.3 484.5h0M1115.9 499.7h0M1116.7 475h0M1116.8 491.8h0M1117.2 474.1h0M1117.5 465h0M1117.6 488.6h0M1117.9 476.3h0M1118.1 489.2h0M1119.1 465.7h0M1119.2 482.9h0M1119.3 486.5h0M1119.9 473.1h0M1120.8 470.5h0M1121.3 462.2h0M1121.4 482.7h0M1121.4 480.2h0M1122.3 488.1h0M1122.3 481.7h0M1123.5 474.2h0M1124.1 480.8h0M1124.3 484.3h0M1124.4 469.6h0M1124.6 473.7h0M1124.6 483.1h0M1125.4 484.3h0M1125.8 475.7h0M1126.5 480.7h0M1127 488.2h0M1127.1 493.1h0M1127.1 487.8h0M1127.2 490.5h0M1127.3 495.2h0M1127.5 506.3h0M1127.9 493h0M1128.1 483.3h0M1128.1 481h0M1128.1 507.3h0M1128.1 504.4h0M1128.5 502.2h0M1129 485.8h0M1129.3 509.1h0M1130.6 496.4h0M1130.7 505.4h0M1131 513.2h0M1131.3 510.5h0M1131.5 507.1h0M1131.7 495.9h0M1132 499.2h0M1132.5 490h0M1132.6 493.4h0M1133.6 502.5h0M1133.7 524.3h0M1133.8 493.8h0M1133.8 501.6h0M1134.3 491.5h0M1135.2 509.3h0M1135.6 515.8h0M1136.7 488.6h0M1137.6 514.2h0M1138.6 487.3h0M1138.7 502.9h0M1138.9 507.5h0M1139 492.8h0M1139.5 489h0M1140.2 497.8h0M1140.3 491.9h0M1140.5 513.7h0M1141.3 485h0M1141.4 498.3h0M1141.6 486.1h0M1142.1 518.9h0M1142.5 494.6h0M1143 507.1h0M1143.8 497.8h0M1144.1 500.1h0M1144.1 505.7h0M1144.2 494.6h0M1144.8 497.8h0M1145 491.8h0M1145.2 521.7h0M1145.8 518.7h0M1146.1 504.4h0M1146.4 506.8h0M1146.9 509.6h0M1147.1 516.9h0M1147.5 531.3h0M1148.5 495.1h0M1149.1 518.3h0M1149.2 490h0M1149.6 495.6h0M1149.8 493.9h0M1150.2 492.1h0M1150.5 522.1h0M1151 512.9h0M1151.1 507.2h0M1151.3 513.6h0M1151.5 496.4h0M1151.8 525.2h0M1153.1 523.8h0M1153.4 496.6h0M1153.8 500.1h0M1154.3 510.6h0M1154.4 511.4h0M1155.7 520.8h0M1155.7 514.5h0M1156.2 501h0M1156.8 521.5h0M1157.5 519.8h0M1157.7 518.8h0M1158.3 495.9h0M1158.4 514.1h0M1158.9 500.7h0M1158.9 505.1h0M1159.3 516h0M1160.4 498.7h0M1160.6 513.7h0M1161 514.3h0M1161.7 514.9h0M1161.9 518.9h0M1162.1 504h0M1162.1 496.1h0M1162.5 509.8h0M1162.6 512.4h0M1162.9 510.8h0M1163.6 503.3h0M1164 511.7h0M1164.5 498.3h0M1165.1 500.7h0M1165.6 488h0M1166.4 498.5h0M1166.7 503.6h0M1166.7 506.6h0M1167.4 500h0M1168.2 506.2h0M1168.3 503.6h0M1168.3 499.5h0M1168.5 503.8h0M1169.2 533.3h0M1170.3 523.6h0M1170.6 507.2h0M1170.9 510.1h0M1171.4 521.6h0M1171.5 506.5h0M1171.8 539.2h0M1172.3 515.6h0M1173.4 505.6h0M1173.6 491.8h0M1173.9 532.5h0M1175.5 508.5h0M1175.9 531.2h0M1176.1 509.7h0M1176.4 526.7h0M1176.7 534.2h0M1176.9 516.3h0M1177.1 519.4h0M1177.1 511.9h0M1177.1 519h0M1177.6 529.6h0M1177.9 504.8h0M1178.4 515.4h0M1179.2 516.3h0M1179.9 514.1h0M1179.9 520.9h0M1180.8 529.5h0M1181.5 529h0M1181.6 511.4h0M1182.2 509h0M1182.4 520.3h0M1182.8 506.5h0M1183.1 523.5h0M1183.3 521.9h0M1183.4 504.6h0M1183.4 509.5h0M1183.6 513.9h0M1183.8 498.2h0M1185.2 513.9h0M1185.4 508.6h0M1186.3 533h0M1186.3 542h0M1186.4 518.1h0M1186.7 527.9h0M1186.7 526.7h0M1187.3 507.7h0M1187.5 519.9h0M1188.3 513.9h0M1188.3 536.7h0M1189.2 563.3h0M1190 573.3h0M1190.1 559.9h0M1190.5 555.7h0M1190.6 563h0M1190.7 554.9h0M1190.8 576.7h0M1191.4 555.3h0M1191.5 563h0M1192.1 565.6h0M1192.1 545.2h0M1192.6 557.8h0M1192.8 559.4h0M1193.2 555.4h0M1193.3 550.3h0M1193.3 532h0M1193.3 543.3h0M1193.8 552.3h0M1194 535.8h0M1194.3 562.7h0M1195 561.2h0M1195.2 548.4h0M1195.2 553.8h0M1195.6 556.3h0M1195.8 555.4h0M1196.7 571.7h0M1197 549.2h0M1197.9 546.4h0M1199.1 565.6h0M1199.4 547.3h0M1200.2 533.9h0M1201.7 557.1h0M1202 558h0M1202.1 542.6h0M1202.8 555.4h0M1202.9 557.7h0M1203.4 537.4h0M1203.5 556.4h0M1203.7 534.6h0M1203.8 559h0M1204.1 561h0M1204.3 552.4h0M1204.5 551.9h0M1204.9 555.6h0M1205.5 535.1h0M1205.8 552.2h0M1206.2 554.7h0M1206.4 537.7h0M1206.7 551.8h0M1206.9 535.8h0M1206.9 538.6h0M1207 532.1h0M1207.7 533.8h0M1208.6 545.4h0M1208.7 537.5h0M1209.7 542h0M1210.1 553.7h0M1210.7 542.4h0M1211.3 529.8h0M1211.9 541.1h0M1212.3 531.7h0M1212.5 542.3h0M1212.6 536.3h0M1213.2 521.4h0M1213.7 532.7h0M1214.2 542.6h0M1214.5 520.7h0M1215 532.7h0M1215 553.3h0M1215.4 535.7h0M1215.5 534.7h0M1215.9 541h0M1216.3 533.2h0M1216.9 535.3h0M1217.1 530.6h0M1217.1 540h0M1217.3 525.8h0M1217.9 540.8h0M1218 529.6h0M1219 541.9h0M1219.7 526h0M1220.2 531.4h0M1220.2 518.6h0M1220.3 524.8h0M1220.9 540.2h0M1222.2 525.4h0M1222.2 517.9h0M1222.8 517.7h0M1223.3 542h0M1223.4 531.9h0M1223.7 517.2h0M1223.9 523.1h0M1224.1 511.7h0M1224.9 513.4h0M1225.3 513.1h0M1226.4 526.4h0M1226.5 513.7h0M1226.7 518.4h0M1226.8 521.7h0M1227.1 513.2h0M1227.8 495.4h0M1228.4 504.6h0M1228.6 501.2h0M1229.3 494.5h0M1229.5 485.4h0M1229.8 492.6h0M1229.8 486.7h0M1229.9 505.8h0M1230.1 494.5h0M1230.7 505.8h0M1231.7 477.5h0M1232 506.4h0M1232.8 509h0M1232.8 505.5h0M1233 498.5h0M1233.3 505.6h0M1233.6 500.4h0M1234 505.5h0M1234.6 491.8h0M1234.7 497.3h0M1234.7 506.5h0M1235.6 503.4h0M1236.5 510h0M1236.8 495.3h0M1236.8 499.5h0M1236.9 501.1h0M1237.4 490.3h0M1237.9 503h0M1238 511.9h0M1239 505.2h0M1239.5 515.1h0M1239.6 503h0M1239.8 492h0M1241.1 507h0M1241.8 505.6h0M1242.2 504.1h0M1242.6 492.5h0M1242.7 496h0M1242.8 490.8h0M1243.6 490h0M1244.1 506h0M1244.2 530.3h0M1244.5 518h0M1245.6 518.8h0M1245.6 514.2h0M1246.1 502.8h0M1246.5 518.5h0M1247.5 528.3h0M1248.1 499.9h0M1248.2 511.3h0M1248.4 518.1h0M1248.5 502.5h0M1249.1 498.8h0M1249.3 507.7h0M1249.6 515.9h0M1249.7 514.2h0M1250.3 502.9h0M1251.8 511.9h0M1252.4 502.2h0M1252.7 503.5h0M1253.1 505.1h0M1253.1 518.1h0M1253.2 521h0M1253.2 508.1h0M1253.3 543.3h0M1253.3 506.3h0M1253.5 516.8h0M1254 528.2h0M1255.4 513h0M1255.6 521.5h0M1255.8 520.2h0M1257.3 531.8h0M1257.5 527.6h0M1257.8 524.8h0M1258.3 524.7h0M1258.3 535.4h0M1258.5 504.1h0M1259.4 526.6h0M1259.4 530h0M1259.4 519.5h0M1259.9 522.2h0M1260.9 538.1h0M1260.9 536.3h0M1261.8 527.7h0M1262.1 533.3h0M1262.1 532h0M1262.2 521.8h0M1262.5 531.1h0M1263.6 533.3h0M1264.6 518.6h0M1264.7 532.8h0M1264.8 529.3h0M1264.8 542.2h0M1265.2 529.8h0M1265.5 533.1h0M1265.9 526.2h0M1268 562.9h0M1268.4 544.6h0M1269.9 557.9h0M1270 556.1h0M1271 541.7h0M1271.8 546.8h0M1271.9 542h0M1272 544.7h0M1272 546.1h0M1272.5 558.3h0M1272.7 547.7h0M1272.9 539.2h0M1273.5 551.3h0M1273.6 554.1h0M1273.8 541.9h0M1274.5 555.9h0M1274.5 537.7h0M1274.5 547.4h0M1275.6 539.8h0M1275.7 544.1h0M1275.8 547h0M1276.3 533.8h0M1276.3 570.5h0M1276.4 546.1h0M1276.5 559.5h0M1276.7 535.3h0M1277 539.7h0M1277 555.4h0M1277.6 551.5h0M1278.2 537h0M1279.5 561.1h0M1279.5 541.6h0M1280 547.6h0M1280.3 564.2h0M1280.8 550.5h0M1281.1 541.2h0M1281.2 543.7h0M1281.3 573.3h0M1281.4 559.8h0M1281.7 550.6h0M1281.7 546.7h0M1281.8 548.4h0M1282.2 542.9h0M1282.6 540.5h0M1283.3 536.8h0M1283.9 559h0M1284.2 533.7h0M1285.7 543.9h0M1286 552.3h0M1286.2 550h0M1286.4 546.5h0M1286.6 535.5h0M1287 544.8h0M1288.4 538h0M1288.7 545.5h0M1290.2 532.1h0M1290.4 533.7h0M1290.7 548.9h0M1290.7 541.6h0M1290.7 553.8h0M1290.7 546.8h0M1290.9 527.2h0M1291.6 525.1h0M1291.9 532.6h0M1292 534.9h0M1292.3 531.9h0M1292.5 590.5h0M1292.5 531.4h0M1292.7 529.8h0M1293 519.7h0M1293.6 531.5h0M1293.6 515.8h0M1293.7 524.4h0M1294 528.9h0M1294.1 522h0M1294.7 524.7h0M1295.3 507.4h0M1295.5 515.9h0M1296 506.1h0M1296.2 523.6h0M1297 514.4h0M1297.2 512.2h0M1297.3 519.1h0M1297.5 521.4h0M1297.5 502.9h0M1297.8 515.4h0M1298 511.9h0M1298.9 503.4h0M1299 507.5h0M1299 507.7h0M1299.2 508.3h0M1299.7 502.7h0M1300 507.4h0M1300.2 504.4h0M1301.3 504h0M1301.5 505.2h0M1302.3 503.9h0M1302.5 510.2h0M1302.7 514.3h0M1302.8 509.6h0M1302.9 509.7h0M1303 517h0M1303.3 497h0M1303.5 506.9h0" stroke="#000" stroke-width="3.5" stroke-linecap="round" fill="none"/>
<path d="M218.4 660.4h0M565.5 659.5h0" stroke="#ffa500" stroke-width="3.6" stroke-linecap="round" fill="none"/>
<path d="M208.4 665.6l2.9 -5.2h-5.8zM224.4 665.6l2.9 -5.2h-5.8zM593.4 665.6l2.9 -5.2h-5.8z" fill="#ffa500"/>
<rect x="105.5" y="499.0" width="1255.4" height="48.799999999999955" fill="#f00" fill-opacity="0.1"/>
<rect x="162.9" y="499.0" width="1140.1" height="48.799999999999955" fill="#ffa500" fill-opacity="0.1" stroke="#ffa500" stroke-opacity="0.1" stroke-width="1"/>
<path d="M162.9 523.5H1303" stroke="#ffa500" stroke-width="2.8"/>
<path d="M105.5 523H1360.9" stroke="#f00" stroke-width="2.1"/>
<path d="M162 666.5V380.5" stroke="#800080" stroke-width="2.1" stroke-dasharray="2.1 3.43" fill="none"/>
<path d="M1303 666.5V380.5" stroke="#800080" stroke-width="2.1" stroke-dasharray="2.1 3.43" fill="none"/>
</g>
<rect x="105.5" y="380.5" width="1380.0" height="286.0" fill="none" stroke="#000" stroke-width="1.1"/>
<text x="163.1" y="686.9" font-size="13.89" text-anchor="middle" >0</text>
<text x="353.9" y="686.9" font-size="13.89" text-anchor="middle"  letter-spacing="-0.3">500</text>
<text x="547.4" y="686.9" font-size="13.89" text-anchor="middle"  letter-spacing="-0.3">1000</text>
<text x="739.4" y="686.9" font-size="13.89" text-anchor="middle"  letter-spacing="-0.3">1500</text>
<text x="931.9" y="686.9" font-size="13.89" text-anchor="middle"  letter-spacing="-0.3">2000</text>
<text x="1124.7" y="686.9" font-size="13.89" text-anchor="middle"  letter-spacing="-0.3">2500</text>
<text x="1316.3" y="686.9" font-size="13.89" text-anchor="middle"  letter-spacing="-0.3">3000</text>
<path d="M162.5 666.5v5.4M355.5 666.5v5.4M547.5 666.5v5.4M740.5 666.5v5.4M932.5 666.5v5.4M1124.5 666.5v5.4M1317.5 666.5v5.4" stroke="#000" stroke-width="1.1" fill="none"/>
<text x="94.9" y="399.9" font-size="13.89" text-anchor="end"  letter-spacing="-0.3">9.75</text>
<text x="94.9" y="439.9" font-size="13.89" text-anchor="end"  letter-spacing="-0.3">9.70</text>
<text x="94.9" y="479.9" font-size="13.89" text-anchor="end"  letter-spacing="-0.3">9.65</text>
<text x="94.9" y="519.9" font-size="13.89" text-anchor="end"  letter-spacing="-0.3">9.60</text>
<text x="94.9" y="558.9" font-size="13.89" text-anchor="end"  letter-spacing="-0.3">9.55</text>
<text x="94.9" y="598.9" font-size="13.89" text-anchor="end"  letter-spacing="-0.3">9.50</text>
<text x="94.9" y="638.9" font-size="13.89" text-anchor="end"  letter-spacing="-0.3">9.45</text>
<path d="M105.5 394.5h-5.4M105.5 434.5h-5.4M105.5 474.5h-5.4M105.5 514.5h-5.4M105.5 553.5h-5.4M105.5 593.5h-5.4M105.5 633.5h-5.4" stroke="#000" stroke-width="1.1" fill="none"/>
<text x="795.1" y="371.8" font-size="16.67" text-anchor="middle" >Magnitude Estimates</text>
<text x="732.6" y="656.8" font-size="13.89" text-anchor="middle"  letter-spacing="-0.3">42206</text>
<rect x="1365.4" y="387.6" width="113.29999999999995" height="48.0" rx="2.6" fill="#fff" fill-opacity="0.8" stroke="#ccc" stroke-width="1.1"/>
<path d="M1369.2 399.5H1399.8" stroke="#ffa500" stroke-width="2.8"/>
<path d="M1369.2 421.9H1399" stroke="#f00" stroke-width="2.1"/>
<text x="1410.1" y="403.8" font-size="13.89">mag<tspan font-size="9.72" font-style="italic" dy="1.9">OBSID</tspan></text>
<text x="1409.3" y="426.5" font-size="13.89" text-anchor="start" >mag</text>
<rect x="1348.4" y="613.3" width="130.29999999999995" height="46.200000000000045" rx="2.6" fill="#fff" fill-opacity="0.8" stroke="#ccc" stroke-width="1.1"/>
<path d="M1367.4 626.5h0" stroke="#ffa500" stroke-width="3.5" stroke-linecap="round" fill="none"/>
<path d="M1367.4 647.4h0" stroke="#000" stroke-width="3.5" stroke-linecap="round" fill="none"/>
<text x="1392.8" y="629.7" font-size="13.89" text-anchor="start" letter-spacing="-0.08">Highlighted</text>
<text x="1392.9" y="650.6" font-size="13.89" text-anchor="start" letter-spacing="-0.8">OK</text>
</g>
<g id="p3">
<clipPath id="c3"><rect x="105.5" y="725.5" width="1380.0" height="286.0"/></clipPath>
<g clip-path="url(#c3)">
<path d="M105.5 763.5H1485.5M105.5 802.5H1485.5M105.5 840.5H1485.5M105.5 878.5H1485.5M105.5 916.5H1485.5M105.5 957.5H1485.5M105.5 983.5H1485.5M105.5 1009.5H1485.5" stroke="#b0b0b0" stroke-width="1.1" stroke-dasharray="1.11 1.83" fill="none"/>
<path d="M162.9 763.5H179.5" stroke="#000" stroke-width="2.9" stroke-linecap="round"/>
<path d="M163.8 763.4H180" stroke="#ddd" stroke-width="0.8" stroke-dasharray="1.1 1.84" stroke-dashoffset="2.4"/>
<path d="M856.3 763.5H1016.2" stroke="#000" stroke-width="2.9" stroke-linecap="round"/>
<path d="M857.2 763.4H1016.7" stroke="#ddd" stroke-width="0.8" stroke-dasharray="1.1 1.84" stroke-dashoffset="2"/>
<g fill="none" stroke="#000" stroke-width="1.05"><circle cx="176.4" cy="840.5" r="0.95"/><circle cx="184" cy="840.5" r="0.95"/><circle cx="197.4" cy="840.5" r="0.95"/><circle cx="217.4" cy="840.5" r="0.95"/><circle cx="230.7" cy="840.5" r="0.95"/><circle cx="246" cy="840.5" r="0.95"/><circle cx="247.1" cy="840.5" r="0.95"/><circle cx="262.4" cy="840.5" r="0.95"/><circle cx="289.7" cy="840.5" r="0.95"/><circle cx="304.7" cy="840.5" r="0.95"/><circle cx="615.3" cy="840.5" r="0.95"/><circle cx="1012.4" cy="840.5" r="0.95"/><circle cx="1015.4" cy="840.5" r="0.95"/></g>
<g fill="none" stroke="#000" stroke-width="1.05"><circle cx="184" cy="878.5" r="0.95"/><circle cx="195.4" cy="878.5" r="0.95"/><circle cx="197.4" cy="878.5" r="0.95"/><circle cx="199.3" cy="878.5" r="0.95"/><circle cx="217.4" cy="878.5" r="0.95"/><circle cx="230.7" cy="878.5" r="0.95"/><circle cx="246" cy="878.5" r="0.95"/><circle cx="247.1" cy="878.5" r="0.95"/><circle cx="262.4" cy="878.5" r="0.95"/><circle cx="289.7" cy="878.5" r="0.95"/><circle cx="304.7" cy="878.5" r="0.95"/><circle cx="615.3" cy="878.5" r="0.95"/></g>
<path d="M179.6 1007.1h0M180.6 1005.9h0M180.2 1005.3h0M181.1 1004.9h0M180.9 1003.2h0M181.8 1003.1h0M182.4 1002.5h0M181.9 1002h0M183.6 1002.2h0M183.5 1002h0M184.7 1002.7h0M185.5 1002.8h0M186.6 1003.2h0M187.8 1003.2h0M187.9 1003.6h0M188 1003.3h0M188.7 1002.6h0M189.6 1002h0M191.6 1001.3h0M191.5 1000.1h0M191.9 1000.2h0M192.7 999.4h0M192.8 998.9h0M193.7 999.7h0M195 1000.5h0M194.6 1000.7h0M195.4 1001.1h0M196.1 1002h0M196.9 1002.9h0M197.3 1003.1h0M198.2 1004.2h0M198.5 1003.9h0M199.1 1003.9h0M199.9 1003.4h0M200.8 1002.7h0M201.3 1002.4h0M201.8 1003.2h0M202.4 1002.3h0M202.9 1001.6h0M203.3 1000.9h0M204.3 999.9h0M204.1 1000.1h0M204.9 999h0M205.7 997.6h0M206.7 998h0M206.6 997h0M207.1 995.7h0M207.6 995.5h0M207.9 995.7h0M208.6 996.2h0M209.3 996.2h0M209.9 995.8h0M208.6 996.3h0M208.9 997.6h0M208.9 997.8h0M208.1 999.2h0M207.7 998.9h0M207.6 1001.4h0M207.3 1001h0M206.5 1002.2h0M207.4 1002.4h0M205.7 1003h0M204.7 1003.3h0M193.9 994.7h0M212.7 1004.3h0M213.5 1004.3h0M213.9 1003h0M213.6 1001.9h0M214.4 1001.1h0M215.2 1000.4h0M215.7 999.8h0M215.8 999h0M216.4 998.5h0M216.6 997.3h0M216.7 997.2h0M218 995.7h0M217.8 994.5h0M218.5 994.3h0M218.3 1002.7h0M217.8 1000.9h0M218.9 1001.1h0M218.4 1000.4h0M218.8 1000.9h0M220 999h0M220 997.2h0M220.4 996.7h0M221 995.7h0M220.9 996.2h0M222.1 994.5h0M221.5 994.5h0M222.3 993.8h0M223 995.1h0M222.8 1001.1h0M223.9 1002.5h0M224.5 1003h0M224.2 1003.4h0M224.5 1004.1h0M224.4 1005.7h0M225.7 1006.5h0M226 1007.1h0M225.8 1007.8h0M226.2 1008.2h0M225.8 1008h0M226.6 1007.8h0M226.8 1007.4h0M227.3 1006.2h0M228 1004.8h0M227.3 1004.5h0M228 1003.8h0M228.7 1002.8h0M229.1 1000.8h0M229.4 1000.4h0M230.2 994.5h0M231.3 995.7h0M232 995.4h0M232.2 995.8h0M233 997.6h0M233.5 998.1h0M234.5 999.1h0M234.8 999h0M235.5 1000.7h0M236.7 1000.6h0M236.5 1000.7h0M237.3 1000.9h0M238 1000.8h0M238.8 1002.1h0M240 1001.8h0M240.6 1002.1h0M241.6 1002.1h0M242.5 1002.7h0M242.2 1002.3h0M243 1002.5h0M244.5 1002.3h0M245 1003.3h0M245.8 1003.8h0M246.3 1003.8h0M246.9 1003.2h0M247.9 1003.5h0M248.8 1002.4h0M249.5 1002h0M250.4 1002.5h0M250.9 1002h0M251.8 1001.2h0M252.2 1001.1h0M252.1 999.5h0M252.9 999.8h0M254.2 998.3h0M254.7 997.9h0M254.9 997.2h0M255.5 996.1h0M255.9 995.6h0M256.9 996.2h0M257.6 995.3h0M256.8 994.6h0M257.6 994.9h0M258.7 993.2h0M263.1 998.5h0M262.7 998.9h0M263.6 999.9h0M264.1 1000.5h0M264.6 1001.2h0M264.7 1002.8h0M265.5 1003.2h0M265.4 1003.7h0M266.5 1004.1h0M267.1 1005.2h0M267.3 1006.1h0M267.7 1007.4h0M267.5 1007.5h0M267.9 1005.9h0M268.9 1005.2h0M269.2 1005.3h0M269.6 994.2h0M269.9 996.4h0M270.5 996.4h0M270.4 997.1h0M270.6 997.9h0M271.3 998.7h0M272.2 999.5h0M271.8 1000.7h0M272.4 1001h0M273.1 1001.8h0M273.2 1002.6h0M274.6 1003.2h0M274.3 1004.7h0M275 1005.3h0M277.5 997.5h0M277.4 999.1h0M278.3 1000.2h0M278.7 1000.4h0M279.1 1001.2h0M279.6 1002.2h0M279.9 1002.4h0M280.2 1003.9h0M281.3 1004.6h0M281.6 1005.2h0M281.8 1005.9h0M282 1006.3h0M282.5 1007.4h0M283 1007.8h0M283.3 999.5h0M283.4 999.4h0M284.3 1000.1h0M284.7 1001h0M285 1001.3h0M285.7 1002.6h0M285.6 1004.3h0M286.6 1005.6h0M286.9 1004.9h0M286.8 1005.6h0M287.5 1004.7h0M288.3 1003.6h0M288.9 1003.3h0M289.2 1003.3h0M290.4 1002.5h0M290.6 1001.2h0M291.7 1001.4h0M291.1 1001.4h0M292 1001.5h0M293.4 1001.7h0M294.4 1001.7h0M294.9 1001.6h0M295.9 1001.8h0M297.1 1002.2h0M298.4 1001.1h0M298.9 1002h0M299.5 1002.5h0M299 1002.8h0M300.1 1003.6h0M300.6 1003.8h0M301.6 1004.4h0M302.2 1004.3h0M303.3 1006h0M303.8 1005.8h0M304.6 1006.9h0M305.2 1007.3h0M306.4 1007.5h0M305.8 1007.2h0M306.3 1006.8h0M306.7 1006.1h0M308.1 1005.5h0M308 1005.7h0M308.6 1003.4h0M309.2 1003h0M310.1 1002.1h0M309.4 1002h0M310.5 1002h0M311.3 1002.1h0M312 1002.4h0M313.3 1001.9h0M313.6 1001.3h0M314.8 1002.5h0M315.5 1001.1h0M315.4 1001h0M316 1001.8h0M317.5 1002.4h0M317.6 1002.2h0M318.5 1003.3h0M318.8 1003.4h0M319.2 1004.2h0M320.2 1003.7h0M320.8 1003.6h0M321.8 1004.1h0M322.3 1003h0M323.9 1002.8h0M324.8 1002.8h0M325.2 1002.5h0M324.8 1002.2h0M326.5 1003.4h0M326.7 1004.1h0M327.3 1004.6h0M327.7 1004.7h0M328.8 1005.2h0M328.7 1005.8h0M329.6 1006.7h0M330.2 1006.6h0M331 1008.1h0M331.7 1008.1h0M332.4 1008.7h0M332.7 1009.1h0M332.4 1008.4h0M333.3 1007h0M334.5 1006.3h0M334.8 1006h0M334.3 1005h0M335.3 1004.1h0M334.9 1003.2h0M335.9 1002.2h0M336.5 1002.5h0M336.7 1002.3h0M337.5 1002h0M338.6 1002.2h0M339.3 1001.9h0M339.9 1001.9h0M340.9 1001.7h0M341.7 1001.2h0M343.3 1006.5h0M344.3 1006.1h0M344 1005.1h0M344.9 1005.1h0M344.9 1003.3h0M345 1003.3h0M345.4 1001.9h0M345.6 1001.3h0M346.4 1000.5h0M346.8 1001.1h0M347.7 998.8h0M347.7 998.5h0M348 998.1h0M348.3 996.8h0M348.7 996.1h0M349.6 995.7h0M350 1002.4h0M350.6 1002.2h0M351.4 1001.5h0M351.8 999.7h0M352.4 999.7h0M352.9 998.4h0M353.2 997.9h0M353.4 997.6h0M354.2 996.3h0M354 995h0M354.8 995.6h0M355.4 993.6h0M355.7 993.9h0M358.1 1006.6h0M358.5 1006.8h0M358.9 1007.1h0M359.9 1007.6h0M360 1007.7h0M360.5 1007.6h0M361 1006.4h0M361.1 1004.9h0M361.6 1004.9h0M361.7 1004.4h0M362.3 1003.2h0M362.7 1001.8h0M363.8 1001h0M363.9 1000.5h0M364.1 999.6h0M364.3 999.4h0M365.4 998h0M364.8 998.6h0M365.3 999.2h0M365.9 999.7h0M367 1000.6h0M367.7 1000.3h0M368.4 1000.9h0M369.1 1002.6h0M369.8 1002.4h0M370 1002.7h0M370.1 1002.6h0M371.7 1002.8h0M372.2 1003h0M372.5 1003.1h0M374 1003.5h0M374.7 1002.8h0M376 1004.1h0M375.9 1004.3h0M376.4 1003.3h0M377.6 1004h0M378 1003h0M379.2 1003.1h0M380.8 1002.5h0M380 1002.6h0M380.9 1002.7h0M381.9 1003.8h0M382.4 1004.3h0M383.1 1004.9h0M383.7 1005.5h0M384.4 1006.8h0M383.5 1006.8h0M384.9 1006h0M385.4 1005.9h0M386.2 1004.1h0M386.9 1004.9h0M387.8 1004.6h0M388.3 1004.7h0M389.5 1003.3h0M390.3 1003h0M390 1002.4h0M390.8 1002h0M390.5 1000.7h0M391.7 1000.4h0M392.2 999.9h0M392.7 999.5h0M393 998h0M393.8 997.7h0M394.5 997.2h0M394.7 996.3h0M394.9 995.5h0M395.3 997.4h0M396.1 997.2h0M395.7 997.8h0M396.7 998.9h0M398.2 999.9h0M398.1 1000h0M398.2 1001h0M398.9 1003h0M399.5 1002.4h0M402.3 995.4h0M402.1 996.6h0M402.8 996.4h0M403.5 997.8h0M403.7 998.6h0M404.6 998.8h0M404.2 998.9h0M405.2 1001h0M406 1001.8h0M406.7 1002.1h0M406.9 1002.2h0M407.3 1003.7h0M407.5 1004.1h0M407.7 1005.1h0M408.4 996.5h0M408.6 997.1h0M409 997.7h0M409.5 998.7h0M409.9 999.3h0M410 1000.2h0M411.1 1001.6h0M411.1 1002.1h0M411.9 1002.7h0M411.7 1003.4h0M412.3 1004.4h0M413.3 1005h0M412.8 1005.7h0M414.2 1005.7h0M414.3 1006.2h0M414.3 1005.1h0M414.4 1004.3h0M416 1003.7h0M415.4 1002.5h0M415.5 1001.7h0M415.8 1001.4h0M416.3 1000.5h0M416.1 1000.6h0M417.1 1001h0M417.7 1000.9h0M418.8 1001.6h0M419 1002h0M419.8 1002.7h0M420.5 1003.5h0M420.9 1003.4h0M421.9 1004.8h0M422.6 1004.6h0M422.6 1005.1h0M423.2 1004.4h0M423.7 1003.6h0M424.8 1002.6h0M424.8 1002.1h0M426.1 1000.7h0M425.8 1001.6h0M426.9 1001.6h0M427.4 1002h0M429.2 1001.8h0M429.4 1001.6h0M430.8 1002.2h0M431.2 1002.8h0M432.5 1002.7h0M432.7 1002.6h0M433.4 1002.1h0M434.4 1003.4h0M435.3 1002.9h0M435.7 1003.9h0M437.1 1004.3h0M438.1 1004.1h0M438.5 1003.7h0M439.7 1005.6h0M440.3 1004.8h0M440.6 1005.1h0M440.7 1004.2h0M441.5 1004.8h0M442.3 1003.9h0M443.9 1003.8h0M444.4 1003.2h0M444.3 1002h0M445.2 1001.5h0M446.9 1000.5h0M447 1000.2h0M448 1000.7h0M447.4 1001h0M448.4 1001.1h0M449.3 1000.8h0M449.9 1001.4h0M451 1001.8h0M452.3 1002.1h0M452.3 1002.3h0M452.2 1002.1h0M452.7 1003.6h0M453.6 1003.9h0M454.3 1005h0M455 1005.5h0M455.2 1005.8h0M455.8 1006.5h0M456.4 1007.1h0M457.1 1007.8h0M457.1 1007.7h0M458.2 1007.1h0M458.1 1006.6h0M458.7 1005.5h0M459.6 1004.6h0M459.2 1004.7h0M461.1 1003.3h0M461.1 1003.5h0M461.4 1002.3h0M462.8 1007.8h0M463.2 1007.5h0M464.2 1006.6h0M464.7 1005h0M465.3 1004.6h0M465.9 1004.1h0M466.4 1003.6h0M467.2 1003.3h0M467.3 1002.3h0M468.5 1001.8h0M468.4 1000.9h0M469.1 1000.6h0M469.2 1000.3h0M470.7 1000.1h0M470.5 1000.3h0M471.1 1001.7h0M472.9 1004.4h0M472.7 1002.7h0M474.2 1002.8h0M474.5 1002h0M474.7 1000.9h0M475.2 1000.5h0M475.6 999.6h0M476.6 998.3h0M476.4 998.3h0M477 997.3h0M478.2 996.8h0M478.7 1001.8h0M480 1000.3h0M479.6 1000h0M480 1000.1h0M480.9 998.4h0M481.3 997.5h0M481.5 997.1h0M482.9 995.5h0M482.8 996.2h0M483.3 995.7h0M483.7 994.3h0M483.6 998.7h0M484.7 997.9h0M484.8 997.6h0M485.2 996.3h0M485.9 996.6h0M486.7 996.3h0M487.2 995.1h0M488 995h0M488.2 993.5h0M488.8 993.9h0M492.3 1007.1h0M492.5 1007h0M493.4 1005.7h0M493.4 1005.8h0M494.6 1005.1h0M494.1 1004h0M494.8 1003.1h0M495.2 1002.2h0M495.8 1002.3h0M496.5 1001.1h0M496.8 999.9h0M496.7 1000.7h0M497.6 1000.3h0M497.9 998.8h0M497.9 998.3h0M498.3 998h0M499.2 996.8h0M499.5 995.9h0M500.1 995.8h0M500.5 995h0M500.5 995.9h0M501.6 996h0M502.6 996.9h0M503.2 997.2h0M503.7 997.8h0M504 998.7h0M505.3 998.3h0M505.2 999.4h0M506.1 999.9h0M506.7 999.8h0M507.2 999.9h0M507.9 1000.3h0M509.3 1001.2h0M510.3 1001.4h0M499.7 996.8h0M500.6 998h0M502 998.3h0M501.7 998.5h0M502.8 999.1h0M503.6 1000.3h0M504.4 1000.8h0M504.5 1001.1h0M504.8 1001.9h0M505.9 1002.3h0M506.2 1002.7h0M507 1003.5h0M507.7 1002.9h0M508.4 1004.2h0M508.7 1004.8h0M509.6 1005.1h0M509.6 1005.7h0M511 1006.2h0M510.3 1006.4h0M511.6 1005.6h0M512 1004.8h0M512.2 1004.4h0M512.9 1003.7h0M514.5 1003.2h0M514.1 1001.7h0M514.6 1001.9h0M515 1000.9h0M515 1000.5h0M516.1 999.9h0M517.2 998.9h0M517.1 999.1h0M517.2 999.6h0M517.5 1000.9h0M518.5 1000.8h0M519 1001.6h0M518.7 1003.1h0M518.8 1003.1h0M519.8 1002.3h0M520.5 1001.7h0M521 1000.8h0M521.5 1000.4h0M521.9 999.7h0M523 998.6h0M523.3 997.8h0M523.6 997.4h0M524.1 996.3h0M524.8 996.1h0M525.5 995.6h0M525.4 995.2h0M527.5 996.3h0M527.9 997.6h0M528.6 998.1h0M528.8 998.5h0M529.1 999.9h0M529.3 1001.1h0M530.4 1002h0M530 1003h0M530.5 1003.2h0M530.7 1004.3h0M531.5 1005h0M531.6 1005.7h0M531.9 1006.9h0M532.2 1007.3h0M532.3 1007.1h0M532.8 1006.1h0M533.4 1006.1h0M533.7 1005.7h0M534 1004.6h0M534.8 1003.4h0M535 1003.2h0M535.6 1002.3h0M536.4 1001.5h0M535.5 993.9h0M536.8 994.8h0M536.8 994.7h0M537.8 996.7h0M537.8 996h0M538.9 997.2h0M539.2 998h0M539.6 998.9h0M540.7 999.5h0M540.8 1000.4h0M541.5 1000.9h0M541.8 1001.6h0M542.9 1002.4h0M543.2 1002.8h0M543 996.9h0M543.9 997.8h0M544 997.6h0M544.6 998.8h0M544.9 999.8h0M545.9 1000.5h0M546.4 1001.3h0M546.3 1001.6h0M546.9 1002.9h0M547.8 1003.4h0M548.3 1003.8h0M548.4 1005.4h0M549.1 1006h0M548.9 1005.7h0M549.7 1007.5h0M550.9 1007.6h0M550.1 1007.5h0M550.7 1007.4h0M551.5 1007.2h0M552.4 1005.6h0M552.9 1005.1h0M553.6 1004.8h0M553.9 1004.1h0M554.2 1003.8h0M554.7 1004.7h0M555.1 1004.9h0M556.2 1005.8h0M556.2 1006.7h0M556.6 1007.2h0M557.2 1007.7h0M557.1 1007.6h0M558.4 1007.1h0M558.4 1007.2h0M559.1 1006.4h0M559.7 1004.6h0M560.9 1004.3h0M561.1 1004.2h0M561.1 1003.1h0M561.9 1002.6h0M562.6 1001.3h0M563.2 1001.3h0M563.6 1000.6h0M564.1 999.7h0M564.9 999.1h0M565.2 999.4h0M565.6 1000h0M566 999.9h0M566.8 1001.7h0M567.1 1001.6h0M567.6 1002.9h0M568.2 1002.7h0M568.6 1003.5h0M569.2 1004.1h0M569.5 1005.7h0M570.6 1005.2h0M570.6 1006.4h0M571.3 1006.7h0M572.3 1007.3h0M572.2 1008.1h0M572.6 1007.1h0M573.4 1006.8h0M573.4 1005.7h0M574.9 1005.5h0M575.3 1004.6h0M575.9 1004.1h0M577.6 1003.3h0M577.3 1004h0M577.6 1003.4h0M578.1 1003.4h0M579.1 1002.4h0M579.6 1002h0M580.1 1001.3h0M580.9 1001.2h0M582 999.8h0M582.5 1000.3h0M582.9 999h0M584.3 999h0M583.9 998.6h0M584.6 999.5h0M585.2 1000.5h0M585.9 1000.9h0M586.1 1001.7h0M586.7 1002.5h0M587.2 1003h0M587.7 1003.6h0M588.5 1004.9h0M588.8 1005.4h0M589.6 1005.9h0M590.3 1006.3h0M590.8 1007.3h0M590.2 1008h0M593.8 996.1h0M593.6 996.2h0M594.3 996.6h0M594.9 998h0M594.6 998.2h0M595.1 1000.3h0M596.2 999.3h0M595.3 1001.3h0M596.1 1001.6h0M596.7 1002.6h0M596.9 1003.5h0M596.8 1004.7h0M597.3 1005.4h0M598 1005.8h0M598.1 1006.6h0M597.9 1007.3h0M598.5 1006.8h0M598.7 1007.3h0M600.1 1005.9h0M600.7 1005.9h0M601.6 1005.4h0M601.9 1004.7h0M602.8 1004.5h0M603.2 1003.9h0M603.9 1003.8h0M604.6 1002.5h0M605.3 1003h0M605.5 1002.8h0M606.5 1001.7h0M607.3 1001.4h0M607.7 1000.2h0M608.5 999.2h0M609.1 998.8h0M609.3 1003.9h0M609.6 1003.4h0M610.6 1002.4h0M610.6 1001.8h0M610.7 1000.7h0M612.1 1001h0M612.3 1000.1h0M613.7 999.5h0M612.9 998.5h0M614.2 997.7h0M614.6 996.4h0M615.1 996.4h0M616.7 1001.3h0M617.2 1001.2h0M618 1000.4h0M618.4 999.7h0M619.2 999.3h0M619.5 998.5h0M620.3 998.6h0M620.1 999.7h0M621.4 1000.9h0M621.3 1000.8h0M621.8 1001.5h0M622.2 1002.8h0M622.1 1002.3h0M623.2 1002.3h0M624 1001.7h0M624.8 1001.4h0M626.2 1001.3h0M625.1 1001.6h0M626.3 1002h0M626.5 1002.1h0M626.4 1004.5h0M627.8 1005.8h0M630.6 995.4h0M632 994.9h0M633.2 995.1h0M633.7 995h0M634.6 995.4h0M635.8 995h0M636.4 996.1h0M637 995.5h0M638.4 995.2h0M639.1 995.9h0M639.5 1006.4h0M640.2 1005.9h0M641.1 1007.2h0M642.4 1006.1h0M642.4 1006.5h0M644 1006.7h0M643.9 1007.1h0M645.1 1006.6h0M646 1005.7h0M646.5 1006h0M646.8 1006h0M647.5 1004.6h0M649.6 1005.3h0M649.7 1004.9h0M650.7 1003.6h0M651.3 1004.2h0M652 1003.3h0M652.7 1003.2h0M653.4 1002.4h0M653.2 1002.2h0M654.2 1002.1h0M654.6 1000.9h0M655.4 1000.8h0M656.2 999.8h0M656.3 999.5h0M657.4 998.6h0M657.5 997.6h0M658 997.7h0M658.9 997.1h0M658.7 996.3h0M659.5 995.6h0M659.6 994.6h0M662.9 1003.1h0M663.7 1003.8h0M664 1004.9h0M664.4 1005.6h0M664.9 1005.2h0M665.7 1006.2h0M665.9 1006.6h0M666.2 1007.9h0M666.6 1008.8h0M666.1 1008.9h0M667 1008.3h0M667.4 1006.6h0M667.7 1006.1h0M668.4 1005h0M668.3 1004.5h0M669.1 1002.8h0M668.9 1002.3h0M669.7 994.7h0M670 995h0M670.1 995.9h0M670.9 995.9h0M672.2 996.3h0M672.6 997.6h0M672.5 998.2h0M673.1 998.9h0M673.8 999h0M675.4 999.9h0M675.5 1000.7h0M676 1000.9h0M676.1 1000.8h0M677.3 1002.9h0M677.2 1003.7h0M678.4 1005.1h0M678.9 1005h0M679.6 1005.6h0M680 1005.8h0M680.8 1007.1h0M680.8 1006.9h0M681.8 1008.6h0M682.3 1007.9h0M676.6 996.9h0M677.3 997.6h0M677.6 998.1h0M677.6 999.4h0M677.2 1000.1h0M678.3 1001.5h0M678.1 1002.4h0M678.8 1003.2h0M678.9 1003.9h0M682.2 1000.2h0M683.3 1000.2h0M684.1 1000.9h0M685.2 1001.5h0M685.7 1001.2h0M687 1001.6h0M687.9 1001.8h0M689.1 1002.2h0M689.3 1002.9h0M690.1 1001.9h0M690 1003.3h0M690.9 1004.6h0M691 1004.2h0M691.7 1005.9h0M692.1 1006.2h0M691.8 1007.1h0M692.3 1005.1h0M693.7 1005.3h0M694.3 1004.8h0M695.3 1004.7h0M695.3 1004h0M695.8 1002.5h0M697.2 1002.4h0M696.2 1002.6h0M697.4 1003.2h0M698.4 1003.1h0M699 1004.1h0M699.7 1004.3h0M700.5 1004.8h0M702.1 1005.2h0M702.7 1005.6h0M702.9 1005.7h0M704 1006.4h0M703.8 1006.4h0M704.2 1005.4h0M704.8 1004.2h0M705.5 1003.8h0M705.6 1003h0M705.4 1001.7h0M706.1 1001.8h0M706.2 1001.6h0M707 1000.9h0M708 1001.4h0M708.5 1000.7h0M710 1000.6h0M710.8 1000.6h0M711.7 999.7h0M712.7 999.6h0M713.3 1000.2h0M715 1000h0M715.3 998.9h0M715.8 999.6h0M716.1 998.5h0M717.2 999.8h0M717.8 1000.2h0M717.4 1000.3h0M718.8 1001.1h0M720 1001.4h0M720.2 1002.2h0M720.9 1002.4h0M721.2 1002.3h0M722.4 1003.8h0M723.1 1004h0M723.7 1004.6h0M724.1 1005.6h0M727 996.1h0M727.4 996.4h0M728.5 997.6h0M728.5 997.4h0M729.4 998.5h0M729.7 999.9h0M730 999.4h0M731.3 1000.7h0M731.3 1000.8h0M732.9 1002.1h0M733 1002.2h0M733.5 1003h0M734.1 1002.7h0M734.6 1004.1h0M735.2 1005.1h0M736.7 1005.7h0M737.1 1006.4h0M737.6 1007h0M738.3 1007.6h0M738.5 1007.6h0M738.5 1008.2h0M739.6 1006.9h0M739.7 1006.2h0M740.9 1005.7h0M741.1 1004.7h0M741.2 1006.8h0M741.5 1005.3h0M742.6 1005h0M742.2 1004.4h0M742.7 1003.5h0M742.7 1002.1h0M744.2 1001.5h0M744.2 1001.1h0M744.9 1000.1h0M745.2 1000.2h0M746.3 998.9h0M745.9 997.9h0M746.7 997.5h0M747.7 996.4h0M749.6 1003.6h0M750.1 1002.8h0M750.6 1002.7h0M750.9 1001.3h0M751.5 1000.2h0M752.4 999.4h0M752.3 998.8h0M753.3 998.2h0M753.1 998.3h0M753.7 996.5h0M754.2 996.1h0M754.4 995.2h0M755.1 994.7h0M756.6 1007.7h0M756.9 1007h0M757.4 1006.5h0M758.2 1005.2h0M759 1004.2h0M759 1003.8h0M759.8 1002.9h0M760.1 1002h0M761.1 1001.8h0M762.3 1001.7h0M761.3 1001.9h0M762.2 1001h0M762.5 1000.3h0M763.7 998.9h0M763.7 998.1h0M764.1 999.2h0M765.4 999.1h0M765.7 998.7h0M766.7 999h0M767.4 999.3h0M768.6 999.7h0M769.3 999.9h0M770.1 1000.1h0M771.4 1000.6h0M772.3 1000.8h0M773.1 1000.6h0M773.5 1001.4h0M773.4 1001.4h0M774 1001.9h0M774.7 1002.6h0M775.5 1002.8h0M776.1 1003.8h0M776.5 1004.4h0M777.9 1004.9h0M778.3 1005.8h0M778.6 1006.6h0M780.3 1006.3h0M780.8 1007h0M781.2 1007.2h0M783.5 1001.5h0M783.8 1001.3h0M784.8 1001.5h0M786.2 1002.1h0M786.3 1002.2h0M788.1 1002.6h0M788.5 1001.9h0M788.6 1001.8h0M789.2 1000.6h0M789 1000.2h0M789.9 998.8h0M790.5 998.8h0M791.1 997h0M791.5 996.9h0M791.7 996.8h0M792.8 995.7h0M792.8 995.4h0M788.9 1001.3h0M789.7 1001.6h0M790.6 1003.3h0M791.3 1003.3h0M791.9 1004.1h0M792.7 1003.9h0M793.3 1005.3h0M794 1005.8h0M794.7 1006.7h0M795.5 1006.7h0M796 1007.4h0M796.7 1007.1h0M797.5 1007.7h0M798.6 1009.1h0M798.8 1009.6h0M800.4 994.8h0M801.4 995.2h0M802.8 995.1h0M802.3 996.7h0M803 996.7h0M803 998.7h0M803.6 999.1h0M803.8 999.3h0M804 1000.5h0M805.4 1001.2h0M805.4 1002.1h0M806 1002.6h0M806.5 1004.3h0M807.4 1004.1h0M806.8 1005.8h0M807.9 1006.3h0M808.2 1006.5h0M808.7 1007.8h0M810 998.6h0M810.6 999.4h0M810.8 1000.3h0M811.4 1001.6h0M812.3 1001.3h0M812.7 1001.9h0M813.4 1002.6h0M814.3 1003.2h0M814.3 1003.4h0M815.4 1003.6h0M816.1 1004.5h0M816.7 1005.3h0M817.1 1006.3h0M818.2 1006.1h0M818.7 1007.1h0M819 1007.3h0M817 999.2h0M817.3 1000.6h0M818.8 1000.4h0M819.8 1002h0M820.5 1001.4h0M821.3 1001.3h0M822.4 1002.1h0M823.3 1002.8h0M824 1002.7h0M824.1 1003.3h0M824.5 1002.5h0M825.6 1002.4h0M827 1002.2h0M827.8 1002.1h0M828.3 1001.6h0M829 1001.8h0M830.2 1001.9h0M831.5 1001.1h0M830.9 1001.6h0M831.6 1002.1h0M832.7 1002.4h0M833.7 1002.9h0M833.9 1003.6h0M833.6 1004.3h0M835.1 1005.2h0M835.7 1005.2h0M836.3 1006h0M837.3 1006.6h0M838.1 1007.6h0M838.2 1008.3h0M837.7 1007.9h0M838.5 1007h0M839.6 1006.1h0M839.6 1005.7h0M839.8 1004h0M840.7 1003.7h0M840.4 1002.7h0M841 1002.5h0M841.6 1002.4h0M842.7 1001.9h0M843.8 1001.3h0M844.4 1002.5h0M845 1001.4h0M845.5 1000.8h0M846.8 1000.9h0M847.9 1001.4h0M847.7 1000.7h0M849 1000.9h0M850.1 1000h0M851.5 1000.4h0M851.5 999.8h0M852.5 999.7h0M853.7 1000.1h0M854.6 1000h0M855.5 1001.1h0M856.8 1000.3h0M1016 995.5h0M1016.7 994.5h0M1018.5 994.9h0M1019.4 995.4h0M1020.5 995.9h0M1020.9 995.1h0M1021.8 995.9h0M1021.6 994.3h0M1022.1 995.8h0M1022.9 996.4h0M1023.9 996.6h0M1024.4 996.8h0M1024.2 997.7h0M1025.3 998.3h0M1026 999.5h0M1027 999.8h0M1027.6 1000h0M1027.9 1000.3h0M1028.7 1001h0M1028.7 1001.7h0M1029.8 1001.5h0M1030.2 999.7h0M1031 1000.9h0M1032.4 999.6h0M1033.4 999.2h0M1034.3 998.8h0M1034.6 998.8h0M1035.2 998.1h0M1036.9 997.9h0M1036.9 997.2h0M1020.4 1002.6h0M1038.4 1006.6h0M1039.4 1007.2h0M1040.2 1006.8h0M1041.2 1006.3h0M1041.8 1006.3h0M1043.3 1005.5h0M1043.5 1005.7h0M1044.7 1005.7h0M1045.7 1005h0M1045.2 1005.2h0M1046.3 1003.9h0M1046.5 1003.1h0M1047.8 1003h0M1047.3 1002.3h0M1048.8 1002h0M1049.7 1001.3h0M1050.5 1001.2h0M1050.9 1000.8h0M1051.6 999.3h0M1052.4 998.5h0M1052.9 998h0M1053.6 997.9h0M1053.6 997.3h0M1055.1 996.5h0M1055.9 996.1h0M1056.3 995h0M1057.8 1002.9h0M1057.6 1003.1h0M1058.1 1004.4h0M1058.8 1004.4h0M1059.9 1005.8h0M1059.9 1006.4h0M1060.2 1007.1h0M1061 1008h0M1061.1 1008.6h0M1061.8 1008.4h0M1061.3 1007.9h0M1061.8 1008.1h0M1062.7 1006.6h0M1063.1 1006.3h0M1063.1 1004.8h0M1063.4 1004.6h0M1064.3 1004h0M1064.7 1002.2h0M1064.6 994.5h0M1065.2 995h0M1065.9 995.2h0M1066.6 996.8h0M1067.1 996.9h0M1068.3 997.2h0M1068.3 998.7h0M1069.9 998.7h0M1069.7 999.8h0M1070.7 999.8h0M1071.2 999.8h0M1071.8 1000.9h0M1070.4 999.2h0M1071.6 1000.2h0M1071.3 999.9h0M1072.6 1001.2h0M1073.8 1001.3h0M1074.2 1001.5h0M1074.7 1002.2h0M1074.8 1003.6h0M1076.4 1004.2h0M1077.2 1004.2h0M1077.8 1003.9h0M1077.9 1005.4h0M1078.8 1005h0M1079.6 1005.7h0M1080.2 1007.4h0M1080.6 1007.1h0M1081.8 1007.9h0M1081.7 1007.5h0M1082.1 1006.3h0M1082.7 1007h0M1083.1 1005.8h0M1084.2 1005.6h0M1084.9 1004.1h0M1085.1 1004.5h0M1085.1 1003.9h0M1085.8 1003.4h0M1086 1003.2h0M1087.1 1002.9h0M1088.3 1003.6h0M1089.7 1003.1h0M1090.2 1002.2h0M1091.3 1002.3h0M1091.2 1003h0M1091.6 1003.3h0M1091.9 1004.4h0M1092.8 1005h0M1093.6 1004.8h0M1093.6 1006.4h0M1094.9 999.8h0M1095.6 999.7h0M1096.1 1001.3h0M1096.8 1001.4h0M1097.8 1001.4h0M1098.3 1003.2h0M1098.8 1002.9h0M1099.8 1003.6h0M1100.5 997.4h0M1101.2 997.5h0M1102.2 996.9h0M1103.7 997h0M1104.5 997.5h0M1105.8 997.7h0M1106 997.1h0M1106.6 997h0M1108.4 996.3h0M1108.1 996.9h0M1108.7 996.8h0M1109.9 997h0M1110.2 998.4h0M1110.9 999.1h0M1112 999.2h0M1112.9 999.8h0M1112.7 999.8h0M1113.8 1000.5h0M1114 1001.8h0M1114.7 1001h0M1116 1001.9h0M1117.1 1002.4h0M1117.5 1003.1h0M1117.8 1002.8h0M1118.7 1004.2h0M1121.1 994.7h0M1121.6 995.1h0M1122.4 995.8h0M1123 996.1h0M1123.5 997.2h0M1124.2 997.5h0M1125 997.6h0M1125.1 998.5h0M1126.4 998.8h0M1126.3 999.4h0M1127.1 1000h0M1127.5 1001.2h0M1128.1 1001.7h0M1128.6 1002.2h0M1129.8 1002.1h0M1130.2 1003.6h0M1130.8 1004.2h0M1131.5 1004.3h0M1132 1005.6h0M1133 1005.5h0M1133 1006.1h0M1133.8 1006.8h0M1134.1 1008.2h0M1130.3 999.4h0M1130.8 1000.5h0M1131.2 1001.7h0M1132 1002.2h0M1132.1 1002.9h0M1133.3 1003.3h0M1133.8 1004.3h0M1134.4 1005h0M1134.6 1005.3h0M1135 1004.1h0M1135.2 1003.2h0M1136.1 1003.1h0M1136.9 1001.8h0M1138.2 1001.8h0M1138.4 1007.5h0M1138.7 1007.6h0M1138.9 1006.5h0M1139.4 1005.6h0M1140.6 1005.3h0M1140.9 1004.4h0M1142.1 1004.2h0M1141.8 1004.1h0M1142.7 1002.5h0M1143.8 1006h0M1144.6 1004.8h0M1144.8 1004.5h0M1145.7 1003.9h0M1145.7 1003.2h0M1146.2 1002.2h0M1145.7 1001.6h0M1146.7 1000.9h0M1147.3 999.6h0M1147.3 998.6h0M1148.1 998.2h0M1148.1 997.3h0M1148.9 996.3h0M1149.2 995.6h0M1148.8 995h0M1150 994.5h0M1150.4 1007.6h0M1150.8 1007.3h0M1151.2 1006.9h0M1152.1 1005.4h0M1152.8 1005.2h0M1152.8 1004.4h0M1153.5 1003.6h0M1154.5 1003.5h0M1154.5 1003h0M1155.5 1002.1h0M1156.3 1001.4h0M1155.9 1001.6h0M1156.3 1001h0M1157.9 1002h0M1158.1 1001.7h0M1159.3 1001.7h0M1160.5 1002.5h0M1161.8 1002.4h0M1162.3 1002.2h0M1162.4 1002.4h0M1163.5 1002h0M1164.8 1001.9h0M1166.1 1002.8h0M1165.7 1002.8h0M1166 1001.8h0M1166.5 1000.6h0M1166.7 1000.1h0M1167.2 998.7h0M1167.4 998.3h0M1167.8 997.7h0M1168.1 996.8h0M1168.1 997.1h0M1168.7 997.4h0M1168.9 997.8h0M1170 998.9h0M1170.1 999.1h0M1170.9 999.8h0M1171.5 1000.2h0M1172.2 1001h0M1173.1 1001.3h0M1173.1 1002.5h0M1174.1 1002.8h0M1174.2 1003.9h0M1174.9 1004.5h0M1175.9 1004.7h0M1176.3 1005.7h0M1177 1005.3h0M1177.4 1005.8h0M1178.3 1007.6h0M1179.1 1007.4h0M1180.6 999.7h0M1180.9 997.9h0M1181.5 998.8h0M1183.3 997.9h0M1183 997.4h0M1185.1 997.5h0M1185 996.4h0M1186.5 997.2h0M1187.1 996.5h0M1184.8 1002.5h0M1185.5 1002.3h0M1186.4 1002.8h0M1187.5 1002.7h0M1188.8 1001.3h0M1189.1 1002.4h0M1190 1001.7h0M1191 1001.6h0M1191.5 1001.6h0M1192.7 1001.6h0M1193.8 1001.5h0M1194.3 1002.6h0M1194.3 1001.3h0M1195.2 1001.5h0M1195.5 1002.3h0M1197.2 1001.9h0M1197.4 1003.2h0M1198.2 1003.6h0M1199.2 1003.4h0M1196.7 996.4h0M1197.6 996.3h0M1198.2 998.4h0M1198.7 998.6h0M1199.2 999.3h0M1199.9 999.3h0M1200.2 999.5h0M1201.3 1001.1h0M1202.2 1001.7h0M1202.7 1001.8h0M1202.6 1002.7h0M1203.6 1003.7h0M1204.3 1004.1h0M1205 1004.9h0M1205.7 1005.6h0M1206.1 1006h0M1206.5 1006.3h0M1207.5 1007.5h0M1207.9 1007.4h0M1209.1 1008.3h0M1204.7 1000.3h0M1205.7 999.9h0M1206.8 1001.7h0M1207.5 1000.9h0M1208.9 1001.5h0M1209.4 1002.2h0M1209.9 1001.8h0M1211.2 1002.1h0M1211.6 1001.9h0M1213.3 1002.4h0M1213.5 1003h0M1213.1 1002.6h0M1214 1003.6h0M1215.1 1003.6h0M1216 1004.1h0M1217.3 1004.5h0M1217.1 1004.6h0M1218 1003.9h0M1219.1 1003.9h0M1219.4 1002.8h0M1220.4 1002.8h0M1221.1 1002.9h0M1222.4 1001.9h0M1223.5 1001.1h0M1223.3 1001.6h0M1224.5 1001.1h0M1225.4 1001.9h0M1226 1002.3h0M1226.7 1001.9h0M1227.9 1002h0M1228.9 1002.8h0M1229.6 1002.5h0M1230.2 1002.3h0M1230.8 1002.2h0M1230.9 1003.5h0M1231.2 1003.8h0M1231.7 1005.7h0M1232.6 1006.1h0M1233.6 1006.8h0M1233.9 1007h0M1233.8 1008.4h0M1234.4 1007.5h0M1235.2 1008.1h0M1236 1008.4h0M1237.3 1007.8h0M1237.6 1008.6h0M1238.4 1008.4h0M1239.4 1007.6h0M1240.1 1008.6h0M1241 1007.8h0M1242 1008.5h0M1243.2 1008.6h0M1244.1 1008.1h0M1244.6 1008.3h0M1244.7 1008.8h0M1245.9 1007.9h0M1246.5 1007.7h0M1246.5 1006.3h0M1247.5 1005.4h0M1248.7 1004.6h0M1248.4 1004.9h0M1249.2 1004.2h0M1249.8 1003.7h0M1250.6 1002.9h0M1251.1 1002h0M1251.4 1001.7h0M1252.1 1002.4h0M1253.3 1002.1h0M1254.6 1001.9h0M1255.2 1001.1h0M1255.7 1001.1h0M1256.9 1001.1h0M1257.5 1000.3h0M1258.3 1000.7h0M1259.2 1000.6h0M1259.7 999.9h0M1260.8 999.6h0M1261.4 999.1h0M1264 1007.3h0M1264.2 1006.1h0M1264.9 1006.1h0M1265.6 1005.2h0M1266.1 1003.9h0M1266.8 1003.6h0M1266.8 1002.6h0M1267.8 1002.2h0M1267.5 1002.1h0M1268.1 1001.2h0M1269.3 999.4h0M1269.9 999.5h0M1270.3 998.5h0M1270.1 1008h0M1270.2 1007.2h0M1271.2 1006.3h0M1271.7 1005h0M1271.5 1004.2h0M1271.4 1004.1h0M1272.2 1003h0M1272.3 1002.3h0M1272.6 1001.6h0M1273.3 1000.4h0M1273.9 999.4h0M1274.3 999.4h0M1274.7 998.5h0M1275.2 997.6h0M1275 997.1h0M1275.5 996h0M1276.1 995h0M1276.7 994h0M1277.2 993.8h0M1277.7 993.4h0M1278.6 1005.1h0M1278.8 1003.7h0M1279 1003h0M1279.3 1002.4h0M1279.6 1001.7h0M1280.1 1000.6h0M1280.7 1000.2h0M1280.5 999h0M1282.2 998.3h0M1281.8 997.1h0M1282.3 997.2h0M1282.5 995.7h0M1282.7 994.2h0M1284.4 1001.4h0M1287 1007.8h0M1287.3 1007.3h0M1287.7 1007.1h0M1288.3 1005.3h0M1288.6 1005h0M1288.8 1004.5h0M1289.1 1002.6h0M1289.3 1002.6h0M1289.8 1001.7h0M1290 1001h0M1290.8 999.8h0M1291.1 999.2h0M1291.9 998.6h0M1292 997.8h0M1292.7 997.2h0M1293.4 995.9h0M1293.5 995.5h0M1290.2 1000.4h0M1291.5 1000.8h0M1292.3 1000.3h0M1293.1 1001h0M1294.4 1001.1h0M1294.8 1001.9h0M1295.7 1001.4h0M1296.6 1002h0M1297.4 1001.3h0M1298.1 1002.6h0M1298.9 1002.7h0M1300.1 1002.3h0M1300.3 1001.8h0M1300 1001.3h0M1301.3 1001.1h0M1301.9 1000.4h0M1302.4 999.5h0M1302.8 999.4h0M1303.6 1007.9h0" stroke="#000" stroke-width="2.8" stroke-linecap="round" fill="none"/>
<path d="M195.1 979.3h0M199.2 972.4h0M203.3 992.3h0M208.3 993.2h0M245.3 990.1h0M258.5 993h0M259.4 991.8h0M260.4 990.6h0M261.4 989.4h0M262.3 988.4h0M490.3 992.3h0M527.1 993.7h0M629.1 993.7h0M661.3 993.7h0M755.8 993.5h0M1283.7 992.5h0M1292.3 985.3h0" stroke="#f00" stroke-width="2.7" stroke-linecap="round" fill="none"/>
<path d="M176.4 955.1l2.1 4.6h-4.2zM184 955.1l2.1 4.6h-4.2zM197.4 955.1l2.1 4.6h-4.2zM217.4 955.1l2.1 4.6h-4.2zM230.7 955.1l2.1 4.6h-4.2zM246 955.1l2.1 4.6h-4.2zM247.1 955.1l2.1 4.6h-4.2zM262.4 955.1l2.1 4.6h-4.2zM289.7 955.1l2.1 4.6h-4.2zM304.7 955.1l2.1 4.6h-4.2zM615.3 955.1l2.1 4.6h-4.2z" fill="#f00"/>
<path d="M176.4 957.9h0M184 957.9h0M197.4 957.9h0M217.4 957.9h0M230.7 957.9h0M246 957.9h0M247.1 957.9h0M262.4 957.9h0M289.7 957.9h0M304.7 957.9h0M615.3 957.9h0" stroke="#e99" stroke-width="0.9" stroke-linecap="round" fill="none"/>
<path d="M161.8 955.3H181.5V958.6q0 1.2 -1.2 1.2H160.8z" fill="#f00"/>
<path d="M163.8 957.5H180" stroke="#e8a0a0" stroke-width="0.8" stroke-dasharray="1.1 1.84" stroke-dashoffset="2.4"/>
<path d="M855.2 955.3H1018.2V958.6q0 1.2 -1.2 1.2H854.2z" fill="#f00"/>
<path d="M857.2 957.5H1016.7" stroke="#e8a0a0" stroke-width="0.8" stroke-dasharray="1.1 1.84" stroke-dashoffset="2"/>
<path d="M162 954.5V725.5" stroke="#800080" stroke-width="2.1" stroke-dasharray="2.1 3.43" fill="none"/>
<path d="M1303 954.5V725.5" stroke="#800080" stroke-width="2.1" stroke-dasharray="2.1 3.43" fill="none"/>
<path d="M162 1011.5V954.5" stroke="#800080" stroke-width="2.1" stroke-dasharray="2.1 3.43" fill="none"/>
<path d="M1303 1011.5V954.5" stroke="#800080" stroke-width="2.1" stroke-dasharray="2.1 3.43" fill="none"/>
</g>
<rect x="105.5" y="725.5" width="1380.0" height="286.0" fill="none" stroke="#000" stroke-width="1.1"/>
<path d="M105.5 954.5H1485.5" stroke="#000" stroke-width="1.1"/>
<text x="163.1" y="1031.9" font-size="13.89" text-anchor="middle" >0</text>
<text x="353.9" y="1031.9" font-size="13.89" text-anchor="middle"  letter-spacing="-0.3">500</text>
<text x="547.4" y="1031.9" font-size="13.89" text-anchor="middle"  letter-spacing="-0.3">1000</text>
<text x="739.4" y="1031.9" font-size="13.89" text-anchor="middle"  letter-spacing="-0.3">1500</text>
<text x="931.9" y="1031.9" font-size="13.89" text-anchor="middle"  letter-spacing="-0.3">2000</text>
<text x="1124.7" y="1031.9" font-size="13.89" text-anchor="middle"  letter-spacing="-0.3">2500</text>
<text x="1316.3" y="1031.9" font-size="13.89" text-anchor="middle"  letter-spacing="-0.3">3000</text>
<path d="M162.5 1011.5v5.4M355.5 1011.5v5.4M547.5 1011.5v5.4M740.5 1011.5v5.4M932.5 1011.5v5.4M1124.5 1011.5v5.4M1317.5 1011.5v5.4" stroke="#000" stroke-width="1.1" fill="none"/>
<text x="95.2" y="768.9" font-size="13.89" text-anchor="end" >not Kalman</text>
<text x="95.2" y="806.9" font-size="13.89" text-anchor="end" >not track</text>
<text x="95.2" y="844.9" font-size="13.89" text-anchor="end" >Ion. rad.</text>
<text x="95.2" y="882.9" font-size="13.89" text-anchor="end" >dr &gt; 5</text>
<text x="95.2" y="920.8" font-size="13.89" text-anchor="end" >OBS not OK</text>
<path d="M105.5 763.5h-5.4M105.5 802.5h-5.4M105.5 840.5h-5.4M105.5 878.5h-5.4M105.5 916.5h-5.4" stroke="#000" stroke-width="1.1" fill="none"/>
<text x="94.3" y="962" font-size="13.89" text-anchor="end"  letter-spacing="-0.3">10</text>
<text x="95.7" y="988" font-size="13.89" text-anchor="end" >5</text>
<text x="96.5" y="1013.8" font-size="13.89" text-anchor="end" >0</text>
<path d="M105.5 957.5h-5.4M105.5 983.5h-5.4M105.5 1009.5h-5.4" stroke="#000" stroke-width="1.1" fill="none"/>
<path d="M105.5 970.5h-3.4M105.5 996.5h-3.4" stroke="#000" stroke-width="0.85" fill="none"/>
<text transform="translate(69.1,984.1) rotate(-90)" font-size="13.89" text-anchor="middle">dr</text>
</g>
</svg>
</body></html>
